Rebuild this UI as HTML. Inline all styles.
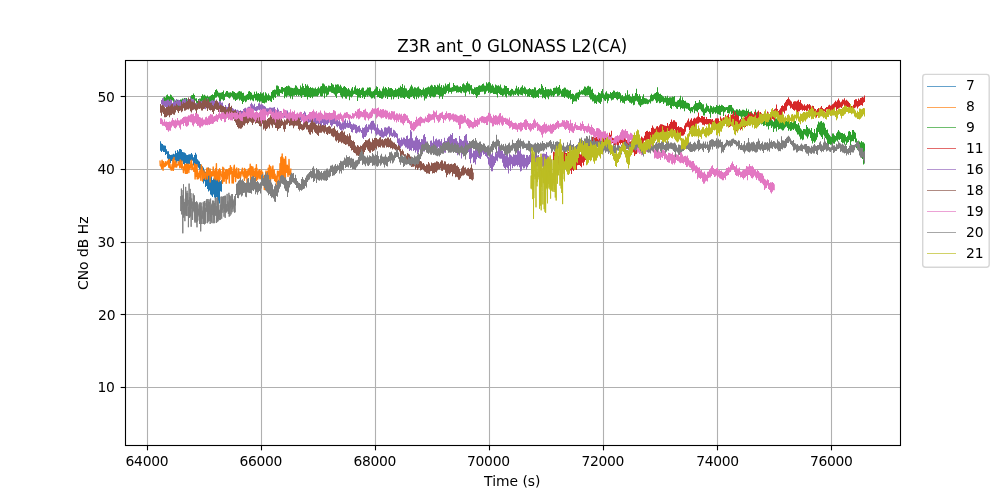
<!DOCTYPE html>
<html lang="en"><head><meta charset="utf-8"><title>Z3R ant_0 GLONASS L2(CA)</title>
<style>html,body{margin:0;padding:0;background:#fff;overflow:hidden}svg{display:block}text{font-family:'DejaVu Sans','Liberation Sans',sans-serif;fill:#000}</style>
</head>
<body>
<svg width="1000" height="500" viewBox="0 0 1000 500">
<rect x="0" y="0" width="1000" height="500" fill="#fff"/>
<g stroke="#b0b0b0" stroke-width="1.11" fill="none">
<path d="M147.5 445V60"/><path d="M261.5 445V60"/><path d="M375.5 445V60"/><path d="M489.5 445V60"/><path d="M603.5 445V60"/><path d="M717.5 445V60"/><path d="M831.5 445V60"/><path d="M125 387.5H900"/><path d="M125 314.5H900"/><path d="M125 242.5H900"/><path d="M125 169.5H900"/><path d="M125 96.5H900"/>
</g>
<g stroke="#000" stroke-width="1.11" fill="none">
<path d="M147.5 445.5v4.86"/><path d="M261.5 445.5v4.86"/><path d="M375.5 445.5v4.86"/><path d="M489.5 445.5v4.86"/><path d="M603.5 445.5v4.86"/><path d="M717.5 445.5v4.86"/><path d="M831.5 445.5v4.86"/><path d="M125.5 387.5h-4.86"/><path d="M125.5 314.5h-4.86"/><path d="M125.5 242.5h-4.86"/><path d="M125.5 169.5h-4.86"/><path d="M125.5 96.5h-4.86"/>
</g>
<clipPath id="c"><rect x="125" y="60" width="775" height="385"/></clipPath>
<g clip-path="url(#c)" stroke="none">
<path fill="#1f77b4" d="M160.0 141.3H161V143.6H162V144H163V145.3H164V145.4H165V145.7H166V149.3H167V151.3H168V151.2H169V154.3H170V155H171V154.8H172V154.5H173V153.8H174V154.3H175V150.8H176V152.9H177V150.1H178V151.6H179V149.1H180V149.1H181V149.7H182V152H183V152.3H184V152.4H185V153.2H186V154.8H187V155.1H188V154.6H189V154.2H190V154.2H191V153.1H192V154.4H193V157.2H194V155.1H195V152.8H196V154.6H197V159.2H198V160.5H199V161.5H200V163.9H201V166.4H202V166.2H203V167.5H204V170.3H205V171.9H206V169.1H207V173.1H208V167.4H209V174H210V176.4H211V174.2H212V180.1H213V178.5H214V175.4H215V176.6H216V177.7H217V177.9H218V178.8H219V178H220V181.2H221V179.9H222V191.7H221V191.3H220V203.5H219V201.5H218V198.1H217V197.1H216V198.6H215V197.5H214V194.6H213V197.1H212V195.4H211V194.4H210V190.6H209V191.4H208V189H207V186H206V187.1H205V181.2H204V183.6H203V175.9H202V173.7H201V172.7H200V169.5H199V167.8H198V166.6H197V167.7H196V165.8H195V166.4H194V165.5H193V160.8H192V162H191V160.8H190V163.9H189V165.4H188V166.1H187V167.7H186V163.1H185V166H184V163.9H183V161.4H182V162.6H181V162.2H180V163.1H179V161.3H178V161.2H177V162.7H176V160.8H175V159.9H174V162.4H173V161.5H172V161.1H171V162.9H170V162H169V163.8H168V158.6H167V154.1H166V155H165V152H164V151.9H163V150.8H162V152H161V150.8H160Z"/>
<path fill="none" stroke="#ff7f0e" stroke-width="1.4" stroke-linejoin="round" d="M160 160.5L160.3 165.6L160.7 166L160.9 165.7L161.2 164.8L161.6 168.5L161.9 161L162.1 160.1L162.4 163.9L162.7 161.8L163.1 170.2L163.2 161.6L163.7 161.8L163.9 166.9L164.2 166.1L164.6 163.9L164.9 164.9L165.2 166.4L165.3 164.5L165.7 161.7L166.1 165.4L166.2 164.8L166.5 163.2L166.9 164.7L167.1 163.1L167.5 161.1L167.8 161.6L168.2 163.6L168.3 160.3L168.8 167.2L169 165.9L169.4 159.5L169.7 167.7L169.8 163.3L170.2 166.2L170.4 168.2L170.8 167.8L171.2 170.2L171.4 168.4L171.6 168.8L172.1 164.5L172.2 166.6L172.6 169.9L172.9 159.5L173.3 170.4L173.5 160.1L173.8 168.3L174 157.4L174.3 165.4L174.7 165.4L175 163.9L175.2 167L175.7 161.2L175.8 164.3L176.1 163.2L176.6 167.1L176.9 165.9L177.2 164.8L177.3 164.7L177.6 164.4L178.1 165L178.2 161.7L178.7 164.9L178.9 163.2L179.2 162.4L179.4 162.4L179.8 167.8L180.2 159.9L180.5 166.2L180.7 167.1L180.9 165.4L181.4 164.8L181.6 168.3L181.9 160.9L182.2 164.7L182.5 166.3L182.7 166.6L183 167.3L183.5 172.6L183.7 170.4L184 166.8L184.3 169L184.7 165.3L184.8 169.9L185.2 164.1L185.4 173.4L185.7 165.3L186.1 171L186.5 164.1L186.7 173.4L186.9 168L187.3 173.2L187.6 166.4L187.9 164.3L188.1 167.1L188.6 164.8L188.9 172.6L189 164.3L189.4 166.7L189.7 169.1L190 167.3L190.3 168.1L190.7 164.6L190.9 161.5L191.1 163.8L191.5 160.1L191.9 169.8L192.1 165.3L192.3 164.1L192.8 168.8L192.9 167.8L193.4 169.4L193.7 169.8L193.8 171.4L194.2 169.5L194.6 163.8L194.7 164.5L195.1 179L195.4 171.8L195.7 164.6L196.1 176.2L196.3 168L196.5 172.2L197 164.8L197.2 179.1L197.4 170.5L197.8 177.1L198.2 176.1L198.3 177.3L198.6 178.5L199 173L199.2 174.8L199.6 170.9L199.8 177.1L200.3 171.9L200.6 169.9L200.8 180.3L201 174.6L201.3 165L201.8 170.1L202 174.2L202.3 168L202.5 181L202.8 172L203.3 176.8L203.4 176.6L203.7 178.4L204 170.8L204.4 177.3L204.6 173.4L204.9 177.1L205.4 174.7L205.5 179.4L205.8 173.9L206.3 171.3L206.5 174.9L206.9 168.1L207.2 176.9L207.4 179L207.6 169L207.9 167.9L208.3 175.2L208.5 170.8L208.9 174.5L209.1 170.6L209.5 174.9L209.9 168.6L210.1 182.1L210.3 169.6L210.6 177.2L211 175.6L211.3 172.1L211.7 176L211.8 171.6L212.1 172.2L212.5 173L212.8 175.8L213.2 167L213.5 171.7L213.8 170.5L214 172L214.4 179.1L214.6 171.3L214.8 172.8L215.1 174.3L215.5 177.9L215.7 168.5L216.1 179.7L216.4 163.8L216.6 173.9L217.1 179.9L217.4 178.1L217.5 172.6L217.8 171.8L218.2 177.7L218.4 170.1L218.8 181.5L219.1 175.9L219.5 176L219.6 168.7L220 179.4L220.2 170.2L220.6 173.5L221 171.6L221.1 173.7L221.6 175.8L221.8 176.6L222.1 176.4L222.5 183.2L222.8 167.1L223 181.3L223.4 168.2L223.5 174.9L223.8 168.2L224.2 181.3L224.5 172.5L224.8 175L225 173.1L225.4 178.4L225.7 170.1L225.9 177L226.2 183.3L226.5 169.6L227 172.5L227.2 169.7L227.4 178.9L227.8 172.2L228.2 170.8L228.3 170.9L228.6 174.8L228.9 168.7L229.3 183L229.6 168.8L230 174.4L230.2 172.8L230.4 165.6L230.7 169.7L231.1 173.2L231.5 173.5L231.7 167.8L232.1 183L232.2 172.2L232.6 179.8L233 176.6L233.2 171.3L233.4 183L233.7 169.8L234.1 166.1L234.3 165.3L234.7 176.3L235.1 176.4L235.4 172.7L235.6 181.6L236 169.1L236.2 177.5L236.4 175.3L236.8 167.9L237.1 176.7L237.4 173.9L237.6 178.2L238.1 177.2L238.3 176.5L238.7 168.7L238.8 178.4L239.2 176.5L239.6 172.3L239.7 177.1L240.2 175.5L240.5 178L240.8 172L241 175.9L241.2 173.2L241.7 173.5L241.8 170.2L242.2 172.7L242.4 168.1L242.8 174L243.2 176.1L243.4 175.1L243.6 176L244 171.6L244.4 180.2L244.5 168.5L244.8 178.4L245.1 173.3L245.5 169.5L245.7 171L246.1 177.4L246.3 171.8L246.6 174.8L247.1 183L247.2 170.9L247.5 174.4L247.9 176.1L248.3 169.1L248.4 173.6L248.9 175L249.2 168.5L249.5 174.5L249.8 171.6L250 174L250.2 164.2L250.7 183.1L250.9 168.5L251.1 177.2L251.6 166.5L251.7 168.9L252 174.5L252.4 170.8L252.8 176.8L252.9 167L253.3 170.1L253.6 175.4L253.9 175.4L254.2 176.5L254.5 171.4L254.7 174.6L255.2 168.4L255.4 180.9L255.8 175.8L256 177.5L256.4 164.8L256.6 180.5L256.9 168.1L257.3 177.9L257.4 174.4L257.8 179L258.2 171.8L258.4 173.7L258.8 170.5L258.9 170.9L259.4 177.9L259.7 169.6L260 178.7L260.2 171.5L260.4 173.3L260.8 178.6L261 176.4L261.5 170.2L261.6 175.5L262.1 174.5L262.3 178L262.6 172.3L263 176.9L263.2 177.2L263.4 181.1L263.9 182.3L264 176.4L264.3 189.5L264.8 180.3L264.9 178.6L265.4 175.8L265.6 181.5L266 171L266.2 186L266.4 182L266.9 186.4L267.2 180.7L267.4 171.7L267.7 181.6L267.9 182.7L268.2 168.3L268.5 177.7L269 179L269.1 174.7L269.4 165.1L269.8 173.7L270.2 172L270.5 182.1L270.8 166.6L271 169.8L271.3 174.2L271.6 173.1L271.8 174.7L272.2 178.6L272.4 169.6L272.9 166L273 174.6L273.5 172.3L273.6 178.4L274.1 176.5L274.2 170L274.6 180.4L275 178.7L275.1 174.1L275.5 181.6L275.7 176.2L276 178.7L276.4 176.1L276.8 180.1L277 185.3L277.4 172.5L277.5 171.1L277.8 175L278.2 171.4L278.5 175.8L278.8 171.5L279.1 181.7L279.3 171.1L279.8 179.5L280 163.7L280.3 170.7L280.7 178L280.8 157.5L281.3 171.7L281.6 156.6L281.9 176.5L282.2 153.9L282.3 167.9L282.7 164L282.9 157.7L283.3 177.6L283.7 160L283.9 178L284.1 159.2L284.6 162.1L284.9 170.7L285.2 167.9L285.4 180L285.6 156.8L285.9 164.1L286.2 166.7L286.6 172.1L286.9 172.3L287.3 165.3L287.5 170.4L287.8 174.1L288 176.4L288.3 166.1L288.8 174.3L289 159.5L289.3 172.5L289.7 174.7L289.9 171.7L290.3 172.1L290.5 181.8L290.8 168.5"/>
<path fill="#2ca02c" d="M163.2 97.2H164V97H165V97.6H166V95.3H167V94.6H168V95.9H169V96.4H170V94.4H171V95.3H172V97.1H173V97.7H174V100.5H175V100.5H176V100.5H177V99.8H178V100.3H179V99.9H180V99.6H181V99.6H182V98.5H183V98.8H184V97.9H185V99.7H186V97.9H187V99.4H188V98.8H189V99.1H190V96.6H191V95.2H192V95.1H193V93.4H194V94.9H195V98.5H196V98.3H197V100.9H198V99H199V98.6H200V98.6H201V96.1H202V94.3H203V95.5H204V94.8H205V95.7H206V96.6H207V95.4H208V96.9H209V96.4H210V95.8H211V95H212V94.3H213V95.1H214V92.2H215V90.1H216V89.2H217V90.8H218V92.4H219V92.7H220V92.8H221V92.4H222V91.9H223V90.4H224V94.1H225V92.4H226V91.1H227V90.9H228V92.5H229V92.4H230V92.2H231V92.8H232V90.9H233V91.5H234V92.1H235V92.9H236V93.3H237V92.6H238V91.4H239V91.1H240V91.5H241V91.5H242V93.1H243V92.8H244V95.8H245V95.6H246V94.7H247V94.1H248V91.6H249V91H250V92.1H251V92.8H252V94.8H253V94.8H254V91.8H255V94.1H256V91.6H257V93.6H258V93.1H259V94H260V92.3H261V93.6H262V93.3H263V92.2H264V95.4H265V92.3H266V93.5H267V95.2H268V93.5H269V95.2H270V95.8H271V92H272V90.6H273V90H274V89.5H275V89.7H276V85.4H277V85.4H278V86.2H279V88.9H280V89.4H281V87H282V86.9H283V88H284V87.7H285V86.9H286V86.1H287V86.2H288V85.6H289V86.3H290V87.6H291V87.8H292V88.1H293V88.3H294V87.8H295V85.3H296V85.8H297V87.4H298V88.7H299V88.9H300V85.6H301V87.2H302V83.6H303V86.1H304V87.9H305V84.1H306V85.8H307V84.6H308V86.3H309V88.1H310V87.1H311V88.1H312V87.6H313V88.2H314V88.6H315V87.5H316V88.9H317V88.3H318V86.8H319V88.3H320V86.5H321V85.9H322V83.5H323V83.6H324V84.4H325V86.3H326V86.1H327V87.5H328V85.4H329V85.7H330V86H331V83H332V84.2H333V84.7H334V87.2H335V84.4H336V84.8H337V84.3H338V84.5H339V86.3H340V84.8H341V86.4H342V87.9H343V86.7H344V86.1H345V87H346V88H347V89.3H348V87.9H349V89.5H350V90.8H351V88.5H352V87.1H353V90.4H354V87.3H355V85.6H356V88.8H357V88.3H358V89.1H359V87.9H360V90.1H361V88.4H362V87.5H363V87.8H364V91.1H365V90.5H366V89.4H367V87.5H368V87.7H369V87.2H370V87.5H371V91.2H372V91.5H373V91.1H374V89.5H375V88.6H376V86.3H377V87.1H378V90.9H379V88.7H380V90.4H381V91.3H382V88.5H383V86.5H384V88.4H385V87.1H386V88H387V89.5H388V87H389V88.2H390V88.1H391V88.1H392V89.1H393V90.3H394V90.1H395V88.3H396V89.4H397V89.1H398V87.8H399V87.8H400V85.8H401V87H402V83.9H403V87.9H404V85.6H405V88.2H406V88.4H407V90.6H408V90.1H409V88.4H410V86.6H411V84.8H412V86.5H413V88.5H414V87.3H415V87.4H416V88.3H417V87.2H418V86.6H419V88.5H420V89H421V90H422V89.5H423V87.4H424V89.3H425V88.1H426V87.8H427V87.2H428V86.6H429V87.2H430V85.7H431V84.8H432V85.4H433V86.9H434V84.9H435V85.5H436V86.9H437V84.8H438V85.4H439V83.6H440V86.7H441V85H442V87.8H443V85.3H444V86.6H445V83.6H446V85.6H447V84.2H448V84.1H449V82.5H450V87.8H451V87.4H452V87H453V83.1H454V85.1H455V85.7H456V85.5H457V85.2H458V86.5H459V86.7H460V86H461V87.1H462V84.3H463V83.2H464V84.6H465V85.2H466V83H467V81.4H468V83.4H469V83.7H470V85.2H471V84.9H472V88.4H473V89H474V87.2H475V87.4H476V87.1H477V87.1H478V85.7H479V85.3H480V85.8H481V85.2H482V84H483V83.4H484V85.5H485V85.7H486V82.3H487V83.6H488V82.2H489V81.9H490V83.3H491V85.6H492V84.2H493V85.7H494V87.6H495V84.6H496V85.2H497V85.8H498V85.3H499V86.3H500V84.4H501V87.6H502V88.5H503V88.2H504V85.3H505V86.1H506V86H507V88.1H508V88.1H509V91H510V90H511V88.8H512V89.1H513V90.5H514V90.7H515V88.6H516V85.7H517V88.4H518V86.9H519V89.6H520V87.7H521V86.8H522V85.3H523V88H524V86.6H525V87.5H526V89.3H527V89.4H528V89H529V88.1H530V88.9H531V89.5H532V89.1H533V89.2H534V87.3H535V87.4H536V90.4H537V90H538V88.9H539V88.1H540V88.8H541V84.1H542V85.7H543V88H544V89.9H545V86.9H546V89.2H547V89.3H548V89H549V89.4H550V88.8H551V89.5H552V91H553V88H554V87.7H555V87.7H556V86.2H557V87.8H558V87H559V84.9H560V88.7H561V90.5H562V89.1H563V88.5H564V87.5H565V87.8H566V89.4H567V89.6H568V90.2H569V90.8H570V90H571V94H572V93.5H573V94H574V95.3H575V93.5H576V92.7H577V92.5H578V91.9H579V89.7H580V91.5H581V90.2H582V90.3H583V88.7H584V86.5H585V86.8H586V87.7H587V86.3H588V85.7H589V86.7H590V86.8H591V89.8H592V88.8H593V93.1H594V94.4H595V94.5H596V95.5H597V95H598V92.2H599V92.9H600V93.5H601V90.9H602V88.9H603V93.2H604V94.4H605V92.4H606V91.3H607V93.4H608V93.8H609V94.3H610V91.9H611V93H612V92H613V90.4H614V90.7H615V92.2H616V91.9H617V91.6H618V92.3H619V91.9H620V93.3H621V95.5H622V94.9H623V96.4H624V96.2H625V93.3H626V95.2H627V90.2H628V94.8H629V94.2H630V96.2H631V97H632V93.7H633V96H634V95.7H635V93.1H636V88.8H637V94H638V96H639V94.2H640V96.2H641V99H642V96.4H643V94.3H644V98.1H645V98.2H646V98.4H647V99.2H648V99.7H649V99.2H650V95.3H651V93.7H652V95.1H653V94.5H654V93.6H655V93H656V92.1H657V87.2H658V92.5H659V94H660V93.7H661V94.9H662V95.8H663V96.6H664V97.8H665V95.9H666V97.4H667V95.8H668V97.9H669V97.3H670V97.2H671V97.4H672V96.6H673V97.1H674V96H675V101.7H676V101.8H677V100.5H678V99.9H679V98.6H680V95.7H681V100.2H682V97.2H683V100H684V101H685V100.8H686V102.5H687V102.7H688V102.9H689V103.7H690V107.4H691V106.9H692V106.9H693V105.7H694V104.2H695V101.1H696V103.1H697V103.1H698V102.4H699V99.9H700V101.9H701V102.9H702V104.3H703V104.3H704V108.5H705V107.3H706V103.6H707V105.6H708V105.9H709V108.6H710V105.4H711V106H712V107.4H713V106.3H714V107.2H715V107.1H716V105.1H717V105.7H718V105.9H719V104.7H720V105.9H721V104.7H722V105.3H723V105.9H724V106.9H725V107.2H726V107.1H727V106.9H728V105.4H729V104.9H730V104.9H731V105.1H732V107.6H733V108.6H734V110.3H735V110.5H736V109.3H737V109.5H738V110.5H739V109H740V110.4H741V110.8H742V109.7H743V109.7H744V110.2H745V110.8H746V108.6H747V111.1H748V109.6H749V111.9H750V111.7H751V111.3H752V113.4H753V114.3H754V114H755V109.6H756V112.5H757V114.7H758V116.6H759V116.7H760V115.4H761V115.9H762V116.9H763V119.2H764V120.4H765V120.3H766V118.7H767V121H768V117.4H769V117.8H770V117.5H771V117.4H772V120.6H773V121.8H774V120.5H775V118.8H776V118.5H777V117.5H778V117H779V118.1H780V115.5H781V119.7H782V120.1H783V121.9H784V122.5H785V120.7H786V121H787V120.7H788V120.3H789V123H790V122.1H791V122H792V122.7H793V121.1H794V120.7H795V121H796V123.9H797V124.6H798V122.9H799V125.4H800V128.3H801V129.5H802V130.7H803V128.9H804V129.1H805V129.3H806V125H807V127H808V128.5H809V128.4H810V130.3H811V128.1H812V132.1H813V133.1H814V129.1H815V133.3H816V127.7H817V124.4H818V121.4H819V122.5H820V121.4H821V120.9H822V122.7H823V122.3H824V123.4H825V127.8H826V129.9H827V129.4H828V133.2H829V134.7H830V136.2H831V136.9H832V133.6H833V133.6H834V135.2H835V136H836V133.2H837V131.8H838V130H839V131.4H840V132.4H841V133H842V133H843V134H844V133.4H845V135.2H846V137H847V135.7H848V131.4H849V130.9H850V131.9H851V134.7H852V130H853V130.1H854V131.8H855V132.8H856V138.5H857V141.3H858V141.1H859V141.6H860V142.6H861V140.9H862V142.2H863V142.3H864V143.6H865V163.4H864V164.5H863V159H862V155.3H861V152.8H860V149.1H859V150.7H858V149.8H857V148.2H856V142.4H855V138.9H854V141.3H853V140.9H852V141.6H851V145.4H850V139.9H849V142.1H848V142.7H847V144.7H846V141.4H845V144.5H844V142.8H843V143.1H842V142H841V139H840V139.9H839V139.5H838V141.4H837V140.5H836V141.8H835V143.8H834V143.5H833V144.3H832V144.6H831V144.8H830V144.1H829V148.8H828V143.3H827V139.5H826V138.1H825V136.4H824V134.8H823V139.1H822V137.1H821V135.6H820V134.3H819V132.1H818V137.2H817V139.8H816V141.6H815V142.8H814V141.3H813V143.4H812V140.7H811V138.1H810V134.3H809V136.4H808V138.6H807V136.5H806V135.6H805V134.5H804V139.4H803V140.2H802V138.8H801V139.4H800V136.5H799V134.4H798V134.5H797V132.3H796V130.8H795V128.8H794V129.9H793V129.3H792V130.5H791V130.9H790V129.3H789V130.8H788V128H787V126.6H786V127.3H785V128.6H784V130.2H783V130.4H782V129.4H781V128.8H780V129H779V129.8H778V127.1H777V131.5H776V128.3H775V128.8H774V131.9H773V126.5H772V127.9H771V125.4H770V126H769V129.5H768V126.2H767V126.5H766V125.1H765V125.6H764V126.1H763V124H762V124.5H761V123.4H760V124.8H759V124.3H758V125H757V123.8H756V123.1H755V122.1H754V121.8H753V120.6H752V117.6H751V115.5H750V116.4H749V115.8H748V115.8H747V116.5H746V117H745V116.9H744V116.5H743V116.7H742V119.5H741V116.6H740V115.9H739V118.8H738V115.6H737V115.7H736V115.6H735V115.8H734V116.2H733V113.5H732V113.9H731V111.4H730V113.4H729V113.2H728V112.9H727V110.1H726V111.4H725V112.3H724V115.9H723V111.6H722V112.1H721V115.2H720V114.8H719V114.2H718V114H717V112.7H716V113.8H715V112.3H714V113.4H713V114H712V112.3H711V117.7H710V113.7H709V111.9H708V111.2H707V112.4H706V113H705V115.4H704V115.6H703V112.2H702V111.3H701V109.4H700V109.1H699V110H698V112.2H697V111.2H696V110.7H695V113.2H694V109.4H693V112.3H692V111.2H691V113.3H690V111.1H689V110H688V108.7H687V108.7H686V108.3H685V111.2H684V108.6H683V108.7H682V108.1H681V109.2H680V106.8H679V107.1H678V108.9H677V108.6H676V107H675V105.9H674V106.5H673V106H672V109.1H671V108H670V105H669V105.8H668V105.6H667V105.9H666V102.6H665V102.5H664V104.1H663V101.7H662V101.9H661V103H660V103.2H659V101.3H658V102.6H657V103.1H656V100.5H655V98.9H654V100.4H653V101.2H652V101.2H651V103.6H650V102.2H649V103.7H648V104.2H647V103.8H646V103.9H645V103.7H644V104.3H643V104.7H642V105.2H641V106.9H640V105.4H639V104.4H638V101.7H637V100.8H636V101.2H635V104.8H634V105.2H633V102.8H632V103.8H631V102.7H630V102.6H629V101H628V100.3H627V100.8H626V101.1H625V103.7H624V102.7H623V102.7H622V101H621V102.6H620V98.8H619V99.1H618V100.3H617V99.2H616V97.9H615V97.9H614V99.6H613V99.7H612V100.6H611V98.4H610V98.1H609V100.8H608V103.2H607V99.2H606V100.9H605V100.5H604V99H603V97.9H602V101.7H601V103.9H600V103.1H599V102.3H598V101.4H597V104H596V103H595V103.4H594V101.3H593V101.5H592V99.5H591V99.5H590V97.4H589V94.9H588V95.6H587V95.6H586V95.9H585V95.2H584V94.6H583V94.7H582V94.2H581V94.7H580V97.2H579V99.9H578V98.8H577V101.4H576V101.3H575V101.3H574V101.8H573V104.1H572V98.9H571V99.4H570V97.7H569V98.9H568V97.7H567V97.2H566V96.3H565V98.1H564V96.7H563V96.7H562V96.4H561V93.7H560V95.3H559V95.8H558V96.3H557V93.8H556V93.9H555V95.4H554V97H553V95.4H552V96.5H551V95.5H550V96.1H549V99.3H548V97.6H547V96.4H546V99.3H545V97.9H544V97.3H543V98.2H542V94.6H541V94.8H540V93.8H539V97.9H538V96.9H537V97.3H536V98.1H535V97.4H534V98.2H533V97.4H532V97H531V95H530V97.1H529V96.3H528V96.7H527V94.1H526V95.8H525V94H524V93.4H523V95.6H522V95H521V94.7H520V94.3H519V96.1H518V95.3H517V93.7H516V94.9H515V94.5H514V95.7H513V94.6H512V95.7H511V96.4H510V95.5H509V95.5H508V94H507V97.4H506V96.4H505V94.6H504V95.4H503V96.4H502V95.1H501V94.9H500V94H499V93.1H498V97.5H497V94.6H496V94H495V94H494V93.9H493V92.8H492V92.9H491V93.4H490V92H489V93H488V90.8H487V91.4H486V93.8H485V94.2H484V91.4H483V91.8H482V91.8H481V92.1H480V94.8H479V95.1H478V96.6H477V97.9H476V95.3H475V94H474V94.7H473V94.1H472V93.7H471V90.4H470V94.2H469V91.8H468V91.2H467V92.4H466V96.3H465V92.7H464V92.4H463V91.3H462V93.2H461V92.8H460V92.1H459V92.4H458V92.3H457V92.7H456V91H455V91.2H454V91.4H453V91.8H452V93.7H451V92.1H450V92.1H449V93.5H448V90.9H447V92.7H446V94.3H445V93.9H444V95.7H443V99H442V96.3H441V96.5H440V98.4H439V95H438V94.6H437V94.6H436V96.6H435V97.2H434V97.2H433V96.6H432V96.3H431V97.9H430V96.6H429V94.6H428V96.3H427V98.6H426V98.5H425V100.5H424V96.1H423V95.2H422V97.6H421V95.7H420V96.5H419V98.3H418V96.8H417V99.2H416V96.3H415V99.2H414V98.1H413V95.9H412V97H411V97.2H410V98.9H409V98.6H408V98H407V96.8H406V97.3H405V98.9H404V97.9H403V97.4H402V97.7H401V97.7H400V96.1H399V99H398V96.1H397V97.2H396V96.9H395V97.3H394V99.3H393V96.1H392V99.6H391V97.1H390V97H389V96.7H388V98.9H387V96.3H386V97.9H385V95.8H384V97.6H383V98.7H382V98.8H381V98H380V98H379V97H378V97.2H377V95H376V95H375V98.8H374V97.4H373V98.2H372V98.5H371V97.2H370V96H369V95.4H368V96.7H367V95.5H366V96.9H365V99H364V96.5H363V98.1H362V94.9H361V97.9H360V97.6H359V97.5H358V101.1H357V95.1H356V94.6H355V94.1H354V94.4H353V96.2H352V97.5H351V96.7H350V100.2H349V96H348V96.2H347V98.8H346V98.4H345V96.7H344V96.2H343V98.4H342V97.3H341V95.5H340V92.9H339V93.1H338V93.8H337V98H336V96.3H335V94.4H334V93.6H333V93H332V92.7H331V91.8H330V91.8H329V94.4H328V95.3H327V96.7H326V93.6H325V98.3H324V93.5H323V96H322V96.6H321V96.1H320V93.4H319V95.3H318V96.4H317V96.3H316V96.3H315V96.2H314V96.4H313V98.2H312V96.8H311V98H310V97.3H309V97H308V99.4H307V96.4H306V96.9H305V97H304V95.2H303V95.6H302V98H301V95.9H300V95.3H299V96.3H298V94.7H297V96H296V95.1H295V95.7H294V95.8H293V99.2H292V96H291V98.5H290V96H289V95.6H288V95.7H287V97.6H286V96.3H285V98.3H284V91.7H283V94H282V93.3H281V93.1H280V96H279V95.8H278V96H277V94.5H276V97.9H275V97.2H274V99.9H273V98.6H272V102.1H271V101.3H270V100.3H269V100.9H268V100.2H267V102.4H266V102.6H265V103.6H264V103.1H263V103.1H262V101.5H261V101.6H260V102.6H259V100.7H258V101.7H257V100.3H256V100.4H255V98.3H254V101.2H253V100.4H252V99.5H251V100.5H250V99.3H249V99.9H248V99.7H247V101.5H246V102.2H245V100.8H244V102.1H243V104H242V101.1H241V99.8H240V100.5H239V98.7H238V99.5H237V99.9H236V100.9H235V99.4H234V99.5H233V97.6H232V96H231V97.5H230V98.4H229V97.8H228V97.1H227V96.5H226V96.7H225V100H224V100.7H223V99.4H222V99.3H221V101H220V101H219V97.6H218V96H217V97.4H216V97.8H215V100.3H214V101.1H213V100.8H212V101.5H211V101.8H210V102H209V102.9H208V102.8H207V102.9H206V101.8H205V101.7H204V102.4H203V100.9H202V103.3H201V103H200V105.1H199V104.4H198V105.8H197V104.2H196V100.7H195V100.6H194V101.1H193V99.5H192V102.1H191V103.4H190V101.5H189V102.5H188V104.1H187V105.6H186V103.7H185V103.7H184V106.7H183V108H182V105.7H181V104.8H180V106.5H179V107.4H178V106.2H177V108.6H176V105H175V103.1H174V101.8H173V100.5H172V100.9H171V103H170V102.1H169V101.5H168V102.6H167V101.4H166V102.7H165V104.1H164V103.7H163.2Z"/>
<path fill="#d62728" d="M553.0 151.8H554V152.2H555V150.8H556V152.4H557V155.6H558V155.9H559V157H560V156.2H561V152.7H562V152.1H563V151.5H564V149.6H565V152.9H566V153.1H567V153.1H568V151.8H569V154.5H570V156.9H571V157.2H572V158.7H573V160.5H574V157.2H575V157.7H576V155.8H577V156.9H578V156.8H579V153.6H580V154.4H581V151.4H582V153.1H583V152H584V149.4H585V146.1H586V144.8H587V142.4H588V142H589V141.9H590V140.6H591V137.7H592V137H593V136.7H594V137.7H595V136.7H596V136.8H597V133.9H598V136.8H599V137.1H600V138.8H601V135.8H602V136.5H603V138.2H604V134.8H605V133.3H606V133.8H607V134.4H608V135.7H609V132.7H610V134.8H611V130.7H612V137.7H613V138.2H614V137.9H615V138.2H616V137.5H617V139.1H618V138.8H619V139.8H620V137.2H621V138.3H622V139.1H623V138.5H624V137.7H625V137.1H626V139.9H627V139.7H628V139.9H629V140.2H630V141.4H631V140.6H632V143.4H633V143.7H634V144.2H635V144H636V143.4H637V141.2H638V142.1H639V139.4H640V140.3H641V136.4H642V137.6H643V138.2H644V135.7H645V131.9H646V131.1H647V130.8H648V132.1H649V131.3H650V132H651V128H652V125.4H653V127.5H654V128.7H655V128.4H656V126.4H657V126H658V127.2H659V125.4H660V124.3H661V124.2H662V124.6H663V125H664V125.5H665V125.8H666V125.9H667V123H668V125.7H669V123.9H670V122H671V119.6H672V121.8H673V120.3H674V120.3H675V121.7H676V122.3H677V127.1H678V125.9H679V127.3H680V126.9H681V127.2H682V128.2H683V129H684V125.4H685V123.2H686V122.6H687V120.6H688V118.6H689V121.5H690V119.8H691V118.2H692V120.8H693V118.8H694V117.7H695V118.6H696V117.6H697V116.6H698V112.6H699V117.1H700V118.1H701V116H702V116H703V116.9H704V116.8H705V118.9H706V117.1H707V119.1H708V119.1H709V118.9H710V119.1H711V119.6H712V119.1H713V120.8H714V121H715V118.4H716V118.3H717V118.3H718V118.6H719V120.9H720V116.4H721V118.5H722V118.6H723V117.2H724V117.5H725V114.8H726V118.2H727V115.4H728V114.1H729V117.7H730V116.2H731V114.8H732V114.2H733V110.9H734V115.9H735V111.9H736V114.8H737V114.7H738V116.1H739V120.2H740V119.1H741V121.4H742V121.5H743V120.2H744V117.4H745V116H746V116.6H747V115.2H748V112.8H749V114.2H750V111.9H751V113.5H752V113.5H753V114.9H754V111.7H755V111.9H756V114.8H757V111.7H758V110.6H759V112.5H760V112H761V113.2H762V114.3H763V114.5H764V113.9H765V112.1H766V114.8H767V111.6H768V112.4H769V115.3H770V112.2H771V111H772V111.3H773V110.3H774V109.2H775V108.5H776V104.6H777V109.1H778V110.9H779V109.8H780V108.3H781V105.9H782V105.3H783V105.9H784V103.2H785V101.7H786V99.9H787V99.1H788V97.3H789V99.3H790V100.6H791V101.4H792V103.8H793V101.7H794V101.2H795V101.3H796V101.4H797V100.7H798V99.7H799V102H800V100H801V103.2H802V104.2H803V105.4H804V104.2H805V105.8H806V105.3H807V104H808V104.7H809V103.9H810V105.3H811V106.9H812V105.7H813V105.9H814V108.5H815V108.9H816V110.4H817V109.1H818V108H819V108.5H820V107.5H821V106.1H822V107.9H823V109H824V109.3H825V108H826V106.9H827V107H828V105.5H829V104.8H830V105.8H831V105.3H832V104.3H833V103.6H834V102.2H835V100.8H836V101.7H837V100.2H838V98.4H839V100.4H840V102.3H841V101.5H842V99.5H843V99.7H844V98.3H845V100.4H846V99.8H847V100.8H848V101.7H849V103H850V104.6H851V106H852V106.5H853V104.7H854V100H855V99.2H856V99.3H857V101.1H858V98.6H859V99.7H860V98.1H861V97.8H862V96.9H863V97.5H864V95.4H865V101.9H864V102.7H863V105.8H862V105H861V105.2H860V105.9H859V106.8H858V108.6H857V106.5H856V107.6H855V108.2H854V109.5H853V111.8H852V110.7H851V109.4H850V109.8H849V107.7H848V107.1H847V107.4H846V111H845V106.8H844V104.4H843V106.2H842V107.9H841V107.2H840V107.7H839V108.5H838V109.1H837V111.7H836V107.2H835V110.7H834V110.4H833V112.5H832V111.3H831V110.7H830V112H829V110.4H828V109.2H827V109.4H826V112.4H825V111.3H824V114.2H823V113.5H822V111.1H821V111.2H820V112.2H819V115.1H818V115.8H817V117.6H816V115.2H815V112.4H814V113.7H813V113.2H812V111.9H811V114.8H810V111.4H809V108.6H808V110.7H807V111.1H806V109.9H805V111.1H804V109.9H803V110.7H802V109.8H801V110H800V111.3H799V111.4H798V116.1H797V113.3H796V109.8H795V110.8H794V110H793V108.9H792V107.7H791V108.5H790V105.8H789V105.2H788V106.2H787V110.6H786V110.8H785V113.6H784V111.7H783V113.6H782V114.9H781V115.3H780V118.8H779V117.1H778V116.5H777V117H776V115.5H775V121.1H774V119.4H773V118.9H772V118.7H771V120.5H770V119.5H769V120.1H768V119.9H767V118.2H766V119.8H765V118.9H764V120.8H763V120.2H762V119.5H761V122.2H760V118.6H759V119.9H758V120.6H757V120.1H756V117.8H755V119.3H754V121.2H753V119.6H752V122.7H751V123.4H750V124H749V120.4H748V125.2H747V126.1H746V126.9H745V127.4H744V127.1H743V126.1H742V129.1H741V130.2H740V128.1H739V128.7H738V129.1H737V131.3H736V127.4H735V126.6H734V124H733V123.5H732V125.1H731V126.2H730V126.9H729V125.5H728V126.2H727V125.5H726V123.4H725V125.5H724V125.7H723V126.1H722V126.3H721V125.8H720V128.6H719V128H718V125.5H717V125H716V124.6H715V125.5H714V126.3H713V127.1H712V127.4H711V124.3H710V125.5H709V125.1H708V124.2H707V124.4H706V124H705V125.5H704V124.7H703V124.8H702V122.8H701V122.3H700V122.5H699V123.4H698V123.7H697V125H696V125.3H695V127H694V126.5H693V126.9H692V127.6H691V129.4H690V130.2H689V127.2H688V126.8H687V127.3H686V131.7H685V134.3H684V135.4H683V135.7H682V135.8H681V135.5H680V135.5H679V135H678V134.4H677V134.4H676V131.8H675V129.2H674V131.4H673V129.9H672V130.8H671V131.8H670V131.4H669V131.3H668V133.3H667V132.9H666V133.5H665V132.4H664V132.9H663V135.6H662V132.2H661V134.1H660V135.5H659V135.3H658V134.9H657V135.5H656V134.1H655V136.4H654V138.5H653V139.7H652V141.6H651V141.9H650V141.3H649V139.3H648V141.9H647V142H646V140.8H645V140.6H644V144.2H643V146.4H642V147.6H641V149.2H640V153.4H639V152.3H638V151.9H637V154H636V154.3H635V156H634V152.3H633V152.1H632V150.9H631V148.3H630V150.5H629V149.2H628V148.8H627V146.1H626V145.3H625V146.3H624V145.8H623V144.2H622V143.1H621V144.4H620V143H619V146.7H618V146.8H617V144.5H616V146.2H615V145.5H614V145H613V143.1H612V142.5H611V141.1H610V144H609V140.8H608V142.5H607V141.9H606V142.2H605V145.4H604V144.4H603V144.1H602V145.8H601V146H600V145.4H599V145.4H598V146.8H597V145.6H596V147H595V147.6H594V146.2H593V147.1H592V149.7H591V150.9H590V152.9H589V154.6H588V156.9H587V158.3H586V160H585V161.7H584V165.4H583V162.7H582V167.3H581V165.9H580V165.1H579V164.9H578V165.3H577V170.1H576V166.2H575V166.7H574V170.9H573V169.7H572V174.1H571V170.4H570V167.7H569V164.4H568V165.5H567V167H566V162.8H565V165.5H564V164.1H563V165.4H562V165.8H561V165.1H560V166.5H559V165H558V163H557V169.4H556V165.6H555V165.2H554V163.7H553Z"/>
<path fill="#9467bd" d="M161.0 99.9H162V98.2H163V98.4H164V101H165V100.7H166V100.4H167V99.8H168V99.6H169V100.9H170V99.3H171V100H172V103.1H173V101.9H174V99.2H175V101.4H176V98.9H177V100.4H178V99.8H179V100.1H180V101.3H181V102.8H182V100.3H183V99.1H184V99.3H185V98.1H186V101.6H187V99.3H188V100.1H189V102.2H190V96.7H191V98.5H192V99.4H193V98.7H194V100.3H195V103.3H196V102.7H197V103.3H198V100.5H199V99.4H200V101.3H201V101.2H202V100.4H203V101.8H204V103.5H205V104.3H206V102.8H207V98.3H208V100.8H209V101.7H210V101.7H211V100.5H212V100.3H213V100.8H214V99.4H215V102.9H216V99.6H217V101.6H218V102.3H219V101H220V101H221V102.7H222V102.6H223V105.7H224V106.9H225V105H226V106.8H227V106.9H228V103.8H229V108.4H230V109H231V107.5H232V108H233V108.8H234V109.7H235V109H236V110.2H237V109.7H238V110.6H239V111.2H240V110.3H241V111.1H242V110.9H243V109H244V108.2H245V107.7H246V110.3H247V107.4H248V106.7H249V106.8H250V104.3H251V102.7H252V104.2H253V105.5H254V103.8H255V106.9H256V106.2H257V105.9H258V103.4H259V102.7H260V104.6H261V103.9H262V104.5H263V105.6H264V106.1H265V106.7H266V108.3H267V108.2H268V108.3H269V107.6H270V107.5H271V107.7H272V107.7H273V107.4H274V107H275V109.5H276V110.4H277V107.7H278V109.5H279V111.5H280V111H281V113.6H282V113.1H283V111.4H284V111.5H285V111.6H286V110.4H287V110.6H288V114.4H289V116.3H290V116H291V115.7H292V113.8H293V112.9H294V115.7H295V117.7H296V118.5H297V115.5H298V116.9H299V115.1H300V116.1H301V115.6H302V115.2H303V113H304V111.2H305V112.6H306V115.2H307V115.9H308V116.9H309V115.7H310V116.1H311V113.2H312V114.8H313V114.8H314V115.8H315V112.5H316V114.1H317V115.7H318V117.2H319V115.1H320V120.2H321V116.8H322V115.9H323V117H324V116.2H325V116.9H326V117.7H327V118.4H328V116.9H329V118.2H330V119.3H331V118.6H332V116.5H333V118.7H334V118H335V120.5H336V118H337V119.4H338V121.3H339V118.6H340V122.2H341V123.5H342V122.2H343V122.2H344V120.5H345V118.7H346V123.1H347V120.6H348V122.9H349V119.2H350V121.8H351V124.1H352V124.4H353V123.6H354V124.2H355V124.4H356V124.9H357V126.8H358V125.9H359V125.4H360V128.3H361V130.1H362V127.4H363V128.1H364V127.3H365V125.2H366V123.9H367V126.8H368V124.6H369V124.4H370V122.6H371V121.1H372V120.8H373V120.8H374V123.3H375V124.8H376V127.5H377V124.3H378V128.3H379V129.7H380V130.3H381V128H382V129.4H383V131.5H384V127.6H385V127.3H386V127.8H387V127.5H388V126.2H389V126.6H390V127.9H391V127.8H392V132.8H393V129.8H394V130.3H395V131.5H396V133.1H397V133.7H398V138.4H399V138.2H400V139.9H401V137.6H402V139.2H403V137.4H404V137.8H405V139.1H406V135.9H407V135.5H408V139.1H409V138.3H410V130.1H411V131.5H412V138.3H413V140.4H414V140.4H415V137.3H416V135.8H417V138H418V139.8H419V139.2H420V142.1H421V139H422V139.3H423V135.2H424V133.9H425V137.1H426V141.5H427V143.3H428V145.6H429V146.4H430V140.8H431V140.6H432V142.7H433V136.3H434V141.3H435V139.2H436V138.5H437V140.3H438V139.5H439V139.3H440V141.3H441V138.9H442V143.3H443V142H444V137.8H445V141.1H446V141.1H447V138.3H448V136.8H449V136.3H450V134.3H451V135H452V133H453V139H454V139H455V137.9H456V138.2H457V141.3H458V142.7H459V136.1H460V139.1H461V139.7H462V141.1H463V140.6H464V135.9H465V134.7H466V133.9H467V140.8H468V142.9H469V141.2H470V146H471V146.3H472V153.2H473V150.6H474V150.7H475V149.8H476V147.6H477V150.2H478V144.5H479V147.9H480V144.9H481V145.6H482V145.5H483V148.1H484V146.2H485V147.7H486V148.2H487V153.3H488V156.7H489V157.4H490V152.6H491V154.4H492V153H493V156H494V156.6H495V152.2H496V153.3H497V151.3H498V146.5H499V146.4H500V148.7H501V150.2H502V151H503V153.7H504V153.2H505V156H506V153.1H507V153.2H508V157.2H509V153.6H510V154.7H511V155.4H512V156.8H513V154.3H514V154.7H515V154.8H516V154.8H517V149.8H518V146.9H519V151.3H520V149.2H521V153.7H522V154.7H523V154.5H524V154.7H525V158H526V155H527V155H528V156.5H529V155H530V148.1H531V153.5H532V154.6H533V154.3H534V156.4H535V154.4H536V153.7H537V155.4H538V155.1H539V158.6H540V158.6H541V156.5H542V153.8H543V153.5H544V153.8H545V154H546V151.9H547V155.4H548V156.3H549V158.6H550V157.6H551V159.8H552V168H551V172.4H550V175.8H549V172.4H548V168.3H547V173.1H546V166.6H545V169.1H544V169.3H543V166.8H542V166.9H541V170.8H540V169.6H539V166H538V166.5H537V166.4H536V166.6H535V168.5H534V163.8H533V168.7H532V165.6H531V162.3H530V163.9H529V165.3H528V167.3H527V169.6H526V166.6H525V168.3H524V168.5H523V166.6H522V170.8H521V171.4H520V167.2H519V164.9H518V166.6H517V165.1H516V165.8H515V166.6H514V165.9H513V168.3H512V164.3H511V171.1H510V165.8H509V173.6H508V168.2H507V167.2H506V169.6H505V168H504V166.5H503V162.7H502V158.7H501V158.8H500V158.6H499V157.5H498V161.3H497V160.4H496V163H495V165.2H494V166.8H493V171.2H492V171.2H491V168.1H490V166.1H489V164.6H488V158.6H487V156.7H486V156H485V153.9H484V154.7H483V152.5H482V156.5H481V159.1H480V158.4H479V158H478V157H477V159.3H476V164.5H475V162.3H474V162.9H473V157.3H472V158.4H471V163.2H470V159H469V152.1H468V152.6H467V151.5H466V153.4H465V149.1H464V148.3H463V153.3H462V158.5H461V150.8H460V149.1H459V151.6H458V155.2H457V151.3H456V152.8H455V151.2H454V148.4H453V150.6H452V148.6H451V146.8H450V146.5H449V144.5H448V148H447V148.7H446V152.7H445V152.6H444V152.8H443V151.8H442V153.2H441V151.4H440V148.8H439V146.8H438V148.6H437V148.4H436V150.7H435V150.8H434V150.6H433V152.5H432V152.2H431V152.3H430V150.5H429V151.3H428V150H427V151.6H426V150H425V151.6H424V151.4H423V151.8H422V154.5H421V152.5H420V149.6H419V152.2H418V154.5H417V150.4H416V152.6H415V150.1H414V151H413V148H412V150.8H411V150.1H410V150.9H409V148.6H408V149H407V147.6H406V147.4H405V145.8H404V144.6H403V145.8H402V146.4H401V148.2H400V148H399V146.8H398V143.1H397V137.7H396V137H395V137.8H394V136.3H393V137.1H392V136.3H391V135.5H390V137H389V133.4H388V134.7H387V136.8H386V135.9H385V136.6H384V137.7H383V137.6H382V137.2H381V136.4H380V135.7H379V134.5H378V134.6H377V135.5H376V133.8H375V130.7H374V129.7H373V129.8H372V133.5H371V129.8H370V129.5H369V131.9H368V132.6H367V135.6H366V137H365V136.9H364V138.9H363V137.8H362V133H361V131.4H360V132.5H359V131.8H358V132.5H357V133.4H356V132.9H355V129.5H354V129.9H353V132.4H352V132H351V129H350V127.8H349V128H348V127.8H347V127.5H346V129.1H345V128.8H344V130.2H343V129.5H342V130.7H341V130H340V128.7H339V126H338V127.3H337V126.3H336V124.2H335V124.1H334V124H333V125.5H332V126.8H331V125H330V122.4H329V123.2H328V125H327V124.1H326V125H325V125.4H324V128.6H323V122.9H322V126.3H321V126.5H320V124.3H319V124.3H318V123.4H317V123.9H316V124.5H315V122.3H314V122.4H313V123.7H312V122.4H311V122.4H310V122.2H309V122.8H308V122.5H307V123.1H306V120H305V119.8H304V121.7H303V120.6H302V122H301V120H300V122.8H299V123.5H298V124.5H297V124.5H296V124.3H295V121.4H294V122.2H293V118H292V122.9H291V120.9H290V120.1H289V121.2H288V120H287V117.5H286V117.4H285V117.8H284V118H283V117.4H282V120.4H281V118.4H280V116.6H279V116H278V116.4H277V117.2H276V117H275V116.3H274V115.8H273V114H272V113.5H271V113H270V113.7H269V113.9H268V113.9H267V114.3H266V114.2H265V110.5H264V111.6H263V112.7H262V110.7H261V111H260V110.3H259V109.8H258V110.5H257V111.3H256V111.1H255V110.4H254V109.8H253V110.6H252V111.7H251V109.8H250V110.8H249V112H248V113.6H247V115.7H246V114.9H245V112.6H244V113.3H243V115.3H242V115.6H241V115.7H240V114.8H239V115.2H238V115.6H237V113.2H236V113.9H235V112.7H234V111H233V112.6H232V112.7H231V113.6H230V111.5H229V111.7H228V109.3H227V112.4H226V112.3H225V111.1H224V110.5H223V109.2H222V110.1H221V109H220V109.1H219V107.3H218V108.3H217V108.7H216V106.6H215V107.6H214V106.4H213V107.8H212V106.6H211V106.1H210V105.2H209V104.3H208V106.3H207V106.3H206V109.3H205V106.9H204V107H203V108.1H202V105.9H201V105.4H200V104.2H199V107.1H198V105.5H197V106.6H196V107H195V107.2H194V106.6H193V105.2H192V104H191V105.3H190V108.2H189V107.6H188V108.3H187V107.2H186V105.8H185V107.6H184V107.2H183V104.6H182V106.2H181V105.8H180V106H179V105.8H178V105.8H177V105.7H176V106.9H175V109.4H174V109.4H173V106.9H172V107.1H171V108.8H170V108.4H169V106.8H168V108H167V108.4H166V107H165V106.7H164V105.4H163V105.1H162V104.3H161Z"/>
<path fill="#8c564b" d="M160.0 103.9H161V105.5H162V105H163V105.2H164V106.9H165V108.2H166V107H167V106.9H168V105.6H169V106.4H170V105.6H171V104.2H172V104H173V106.5H174V105.5H175V105.8H176V103.7H177V105.3H178V106.6H179V105.7H180V105.5H181V101.8H182V103.8H183V102.2H184V102.9H185V102.4H186V101.5H187V101H188V97.6H189V98.9H190V99.3H191V101.5H192V101.5H193V102.3H194V100.2H195V103.4H196V104.4H197V103.2H198V100.4H199V101.2H200V101.2H201V102.7H202V100.7H203V100.3H204V99.8H205V98.3H206V100.8H207V99.2H208V99.5H209V102.3H210V102.7H211V102.7H212V104.9H213V105.7H214V103.4H215V100.7H216V100.2H217V101.2H218V102.9H219V105.4H220V104.4H221V105.3H222V105.9H223V106.2H224V107H225V107H226V109.5H227V108.5H228V106.7H229V103H230V106.9H231V105.7H232V110.8H233V110.7H234V110.6H235V110.1H236V112.2H237V114.6H238V113.2H239V111.2H240V111.4H241V117.7H242V115.8H243V113.8H244V111.1H245V112.1H246V115.4H247V116.3H248V113.2H249V110.8H250V113.4H251V115.1H252V113.4H253V114.6H254V113.8H255V113.6H256V116.2H257V115.1H258V113.7H259V116.6H260V118.5H261V115.2H262V117H263V119.9H264V120.2H265V119.1H266V120.6H267V119H268V118.1H269V117.4H270V115.2H271V116.5H272V117.1H273V116.5H274V116.9H275V116.4H276V116.5H277V118H278V119.2H279V118.1H280V117.2H281V118.9H282V120.4H283V121.7H284V119.6H285V120.4H286V118.5H287V118.3H288V115.4H289V113.1H290V116H291V118.4H292V119H293V120H294V118.5H295V118.2H296V118.8H297V118.4H298V117.3H299V118.7H300V120.7H301V123.9H302V124.6H303V122.3H304V120.6H305V119.4H306V121H307V122H308V124.9H309V124.6H310V123H311V120.6H312V119.3H313V122.3H314V122.2H315V123.6H316V124.8H317V125.5H318V123.8H319V125.4H320V123.9H321V125.7H322V124.9H323V125.3H324V125.6H325V125.1H326V127.3H327V126.9H328V126.2H329V125.7H330V126.7H331V128.7H332V128.5H333V128H334V126.2H335V129.4H336V131H337V130.2H338V132.8H339V133.3H340V132H341V131.1H342V130.6H343V132.6H344V131.5H345V135.1H346V135.8H347V134.2H348V136.3H349V133.2H350V135.6H351V140.1H352V141H353V140.6H354V142.1H355V145.5H356V146.8H357V145H358V145.8H359V147.1H360V145.6H361V146.1H362V144.4H363V143.2H364V142H365V139.9H366V140.2H367V140.3H368V139.3H369V138.2H370V141.4H371V142.3H372V138.4H373V140.1H374V137.9H375V138.1H376V138H377V139.2H378V139.3H379V137.8H380V137.1H381V139.4H382V139.1H383V140.3H384V138.9H385V138.3H386V138.8H387V137.6H388V137.5H389V139.3H390V138.1H391V140.5H392V141.5H393V142.4H394V142.4H395V144.1H396V144.7H397V146.5H398V145H399V146H400V148.7H401V151.1H402V149.5H403V151.2H404V154.3H405V154.2H406V155.4H407V153.1H408V153.7H409V154.6H410V156.5H411V157H412V157.5H413V157.8H414V158.6H415V161.7H416V160.8H417V161H418V158.6H419V160.6H420V161.1H421V161.6H422V163.6H423V163H424V164.6H425V166H426V164.2H427V164.6H428V161.9H429V163.4H430V165.5H431V162.6H432V163.3H433V162.9H434V162.5H435V162.5H436V161.3H437V161.4H438V162H439V163.6H440V161.7H441V160.2H442V160.5H443V163.6H444V161.2H445V161.4H446V164.3H447V163.9H448V163.6H449V164.5H450V164H451V163.7H452V164.4H453V164.1H454V163H455V163.5H456V165.7H457V165.5H458V167H459V168.7H460V171.4H461V168.3H462V166.5H463V165.5H464V167.7H465V167.3H466V169.6H467V168.2H468V167.8H469V169H470V167.8H471V164.4H472V168.6H473V172.4H473.8V179.3H473V180.6H472V179.8H471V179H470V179.1H469V176.2H468V175.7H467V175.3H466V173.6H465V174.7H464V175.5H463V175.6H462V176.3H461V178.3H460V179.8H459V179.8H458V177.2H457V176.8H456V177.3H455V174.1H454V173.7H453V176.2H452V171.9H451V173.2H450V174.6H449V173.4H448V174.9H447V177.3H446V172.7H445V169.7H444V169.6H443V170.9H442V170.7H441V168.4H440V169.6H439V169.6H438V170.5H437V172.5H436V172.1H435V173.3H434V173.1H433V173.4H432V170.9H431V171.2H430V174.1H429V173.6H428V173.3H427V173.5H426V171.9H425V171.5H424V170.3H423V169H422V169.9H421V170.5H420V167.7H419V168.4H418V169.9H417V167.8H416V169.6H415V166.3H414V166.8H413V166.8H412V167H411V165.6H410V163.1H409V162.1H408V160.9H407V159.8H406V159.3H405V156.4H404V155.4H403V154.7H402V155.5H401V156.3H400V151.4H399V150H398V150.1H397V149.9H396V150.3H395V149.2H394V148.6H393V149.4H392V148.1H391V148.5H390V147H389V147.5H388V147.1H387V147.6H386V145.6H385V147.8H384V147.4H383V147.5H382V145.8H381V147.5H380V147H379V147.6H378V146.2H377V149.4H376V148.2H375V150.3H374V150.9H373V151.8H372V150.2H371V152.8H370V152.6H369V150.9H368V149.6H367V147.6H366V150H365V152.1H364V154H363V154.6H362V155.7H361V156.4H360V156.7H359V156.1H358V155.6H357V155.4H356V153.6H355V153H354V152.2H353V150H352V150.4H351V148H350V146.3H349V146.3H348V144.3H347V144.4H346V145H345V144H344V143.4H343V142.6H342V143.2H341V141.8H340V141.8H339V143H338V140.3H337V141.5H336V140.5H335V136.5H334V137.3H333V136.5H332V135.8H331V133.5H330V134H329V133.5H328V135H327V133.9H326V131.8H325V133.4H324V132.6H323V131.4H322V132.8H321V132.7H320V132.7H319V135.9H318V135.1H317V133.8H316V133.1H315V131.8H314V129.6H313V133.6H312V131.9H311V134.8H310V134.3H309V132.3H308V129.6H307V129.6H306V127.5H305V129.3H304V129.9H303V130.6H302V129.8H301V128.9H300V130.6H299V129H298V125.7H297V125.8H296V125.5H295V126.3H294V128.3H293V125.4H292V125.2H291V125.4H290V126.1H289V122.9H288V124.5H287V124.8H286V129H285V131.8H284V129.2H283V125.3H282V126H281V128H280V128.3H279V128.9H278V130.8H277V127.9H276V127.9H275V125H274V124.5H273V127.8H272V125.6H271V124.4H270V128.6H269V126.7H268V128.3H267V128.9H266V130.8H265V128.4H264V129.5H263V123.8H262V126.2H261V126.4H260V126H259V123.8H258V123H257V123.1H256V123.7H255V121.5H254V122.8H253V125.1H252V122.7H251V121.7H250V121.6H249V123H248V124.4H247V122.9H246V123.6H245V125.8H244V125.2H243V127.2H242V128.6H241V128.7H240V128.3H239V128.4H238V126.9H237V125H236V122.4H235V120.9H234V118.8H233V116.5H232V116.3H231V115.4H230V115.4H229V114.1H228V117.5H227V116.3H226V115.8H225V115.1H224V114.4H223V112.5H222V112.7H221V111.9H220V112.5H219V112H218V110H217V109.8H216V108.9H215V110.7H214V114.1H213V112.1H212V109.9H211V110.4H210V109.9H209V108.5H208V111H207V108.2H206V107H205V108.8H204V108.9H203V110.6H202V110.4H201V108.5H200V109.1H199V108.8H198V109.7H197V114.4H196V110.5H195V109.3H194V109.8H193V110.2H192V112.4H191V111.3H190V108.6H189V109.5H188V109.3H187V109.7H186V110.4H185V110.8H184V108.2H183V111.3H182V112.3H181V110.4H180V110.9H179V112.9H178V111.3H177V110H176V112.5H175V114.7H174V114.6H173V113.8H172V114.9H171V115.3H170V117.2H169V115.2H168V115.8H167V117.1H166V117.2H165V117.2H164V113.9H163V112.4H162V115.8H161V112.7H160Z"/>
<path fill="#e377c2" d="M160.0 118.3H161V118.2H162V119.6H163V121.7H164V119.3H165V121.7H166V121.6H167V122.1H168V122.1H169V121.4H170V121.8H171V120.6H172V118H173V120.1H174V120.4H175V119.4H176V120.4H177V117.9H178V120.3H179V120.5H180V119.5H181V119.3H182V118H183V116.9H184V116.8H185V116.6H186V116.7H187V116.6H188V115.2H189V115.4H190V114.4H191V113.8H192V114.3H193V113.7H194V115.9H195V113H196V113.2H197V113.7H198V114.4H199V117.1H200V117.5H201V118.3H202V117.5H203V119.5H204V119.5H205V117.3H206V116.7H207V118.3H208V116.3H209V115.6H210V114.1H211V114.4H212V114.6H213V116.5H214V116H215V115.6H216V114.1H217V115H218V113.4H219V109H220V113.7H221V112.3H222V112.7H223V112.1H224V113.4H225V114.3H226V112.2H227V111.7H228V113.5H229V111.6H230V113.1H231V111.7H232V112.6H233V113H234V112.4H235V112.4H236V113.1H237V111.3H238V114.6H239V111.9H240V112.1H241V113.5H242V112.8H243V110.3H244V111.5H245V112.3H246V108.5H247V108.3H248V107.7H249V108H250V105.6H251V108.3H252V108.5H253V109.3H254V112.5H255V112H256V110.9H257V112.1H258V112.9H259V111.7H260V108.9H261V109.9H262V108.8H263V108.7H264V108.7H265V109H266V111.3H267V112H268V111.1H269V109.4H270V109.1H271V110.6H272V111.9H273V111.3H274V112.7H275V109.1H276V110.1H277V112.3H278V111.2H279V111.8H280V111.7H281V111H282V113.5H283V108.8H284V109.6H285V110H286V111.1H287V113.4H288V112.6H289V112.2H290V109.2H291V112.5H292V111.2H293V112.1H294V110.4H295V114H296V113.4H297V112.6H298V113.8H299V112.6H300V111.7H301V112H302V114.1H303V114.2H304V113.6H305V116.1H306V115.3H307V114.9H308V113.9H309V112.1H310V112H311V112H312V110.9H313V109.6H314V111.4H315V112.7H316V111H317V113.4H318V112.4H319V112.6H320V110.5H321V112.8H322V113.7H323V114.7H324V110.7H325V112.6H326V112.8H327V112.9H328V113H329V112.2H330V113H331V113.1H332V112.8H333V109.9H334V110.4H335V111.2H336V115.3H337V114.4H338V113.7H339V113.7H340V112.4H341V114.2H342V115.6H343V114.5H344V112.8H345V112.7H346V112.1H347V112.3H348V114.1H349V114.4H350V114.7H351V115.9H352V113.1H353V113.4H354V113.2H355V111.1H356V111.7H357V109.6H358V109.1H359V108.3H360V110.9H361V111.2H362V112.1H363V109.9H364V109.8H365V108.7H366V111.5H367V111.9H368V113.6H369V112.4H370V111.5H371V109.7H372V108.1H373V108.8H374V108.4H375V108.1H376V108.7H377V108H378V107.4H379V110.4H380V109H381V109.7H382V109.3H383V108.9H384V110.6H385V109.7H386V110.5H387V110.8H388V112.7H389V111.7H390V113.2H391V110.9H392V111.3H393V111.6H394V111.2H395V114.5H396V113.3H397V113.5H398V114.5H399V113.3H400V114.6H401V113.7H402V115.8H403V114H404V113.4H405V114H406V115.2H407V115.5H408V118.3H409V119.9H410V121.2H411V121.1H412V123.3H413V121.7H414V121.9H415V120.1H416V116.8H417V119.3H418V118.1H419V117.2H420V116.6H421V116.9H422V118.3H423V118.7H424V118.4H425V116.5H426V117.7H427V115.1H428V113.4H429V113.8H430V114.2H431V114.5H432V114H433V110.4H434V111.6H435V112.3H436V110.4H437V115.1H438V114.7H439V113.4H440V112.9H441V112.5H442V111.8H443V114.9H444V114.8H445V113.1H446V111.3H447V113.6H448V112.9H449V112.9H450V113.1H451V114.6H452V113.8H453V113.4H454V114.4H455V114.2H456V114.8H457V115.4H458V116H459V115.4H460V114.7H461V114.8H462V115.3H463V116.3H464V113.9H465V115.7H466V119.6H467V118.1H468V118.4H469V119.5H470V119.9H471V121H472V121.9H473V121.8H474V117.7H475V119.8H476V119.9H477V118.1H478V119.2H479V117.8H480V117.2H481V116.2H482V116H483V116.4H484V116.8H485V117H486V116.3H487V115.4H488V112.8H489V113H490V113.8H491V116.2H492V117.7H493V114.8H494V116H495V115H496V115.6H497V116.6H498V115.6H499V113.5H500V113.1H501V116.3H502V115.5H503V117.4H504V118.1H505V117.7H506V118.5H507V118.5H508V119.6H509V117.5H510V121.1H511V120.4H512V122.3H513V122.9H514V123.1H515V122.6H516V123.2H517V124.4H518V123H519V123H520V122.3H521V122.4H522V122.9H523V122.2H524V120H525V119.3H526V119.6H527V121.1H528V123H529V123.6H530V122.9H531V123.9H532V123.1H533V120.2H534V118.7H535V120.4H536V122.8H537V121.9H538V123.8H539V124.6H540V125.5H541V126H542V124.9H543V124.2H544V122.2H545V124.3H546V123.8H547V125.7H548V124.8H549V125.6H550V123.8H551V125H552V124H553V123.8H554V124.5H555V122.9H556V122.1H557V120.6H558V121.1H559V123.3H560V123.3H561V122.4H562V120.1H563V120.6H564V120.2H565V121.8H566V120.1H567V120.5H568V121H569V123.4H570V119.8H571V123.2H572V123.1H573V126.2H574V124.1H575V122.3H576V125H577V125.3H578V125.9H579V125.9H580V122.8H581V123.9H582V121.2H583V124H584V126.1H585V126.1H586V126.3H587V125.8H588V123.5H589V126.2H590V127H591V124.7H592V127.1H593V127.9H594V129H595V131.3H596V128.3H597V128.1H598V128.2H599V128.7H600V130H601V131.5H602V131.8H603V131.3H604V131.3H605V131.3H606V133.9H607V132.7H608V135.8H609V136.6H610V137.1H611V135.8H612V139.9H613V139.8H614V137.6H615V136.2H616V136.1H617V135H618V135.9H619V134.7H620V132.2H621V130.2H622V128.9H623V130.3H624V130.4H625V128.9H626V131H627V131.1H628V133.7H629V134.6H630V132.7H631V133.3H632V134.4H633V137.4H634V138.4H635V141.1H636V143.4H637V143.5H638V145.6H639V148.6H640V149.5H641V148.6H642V145.6H643V145.9H644V146.4H645V145.8H646V143.6H647V142.7H648V141.8H649V141.2H650V140.4H651V144H652V142H653V145.5H654V149.2H655V149H656V145.4H657V148H658V148.6H659V151.6H660V151.8H661V149.8H662V150.1H663V149.9H664V150.6H665V150.9H666V154H667V155.2H668V152.8H669V153H670V153.4H671V153.9H672V152.5H673V154.9H674V154.4H675V152.8H676V154.2H677V154.7H678V154.6H679V156.4H680V151.6H681V152.3H682V154.6H683V156.6H684V155.9H685V155.8H686V156.5H687V155.4H688V158.3H689V160.2H690V160.4H691V161.6H692V160.9H693V160.9H694V163.6H695V165.5H696V165.3H697V166.7H698V167.7H699V167.3H700V170.5H701V169.9H702V172.3H703V172.6H704V171.5H705V173.8H706V174.7H707V171.7H708V171.4H709V169.2H710V168.2H711V166.2H712V165.3H713V168.1H714V169.3H715V169H716V168.3H717V167.6H718V170.3H719V170.1H720V170.9H721V170.4H722V172.1H723V172.6H724V172.1H725V170.7H726V168H727V167.9H728V166.7H729V167.5H730V165.1H731V163.2H732V161.6H733V164H734V166.1H735V166.4H736V165H737V168.4H738V168.4H739V167.6H740V171.5H741V171.7H742V170.5H743V169.4H744V169.7H745V168.7H746V166.1H747V166.5H748V166.6H749V164H750V165.9H751V166.2H752V165.8H753V167.2H754V168.9H755V169.4H756V171.4H757V169.6H758V171.1H759V172.6H760V173.1H761V173.3H762V173.5H763V175.7H764V178.8H765V179.4H766V180.4H767V179.2H768V179.9H769V182.9H770V182.3H771V182.6H772V182H773V182.9H774V184.3H774.8V190.3H774V190.3H773V191.7H772V193.4H771V192.2H770V190H769V189H768V185.4H767V188.1H766V188.5H765V189.9H764V185.3H763V183.7H762V182.8H761V183H760V181.2H759V180.5H758V178.3H757V180H756V177.4H755V175.8H754V177.3H753V178.6H752V178.1H751V176.3H750V175.1H749V175H748V180.2H747V176.1H746V177.2H745V178H744V179.4H743V178.1H742V177H741V177.4H740V174.9H739V176.8H738V175.7H737V176H736V174.9H735V171.9H734V170.1H733V168.9H732V170.3H731V172.1H730V172.4H729V174.9H728V175.5H727V175.9H726V179.7H725V178H724V180.2H723V180.2H722V179.2H721V178.7H720V178.2H719V176.8H718V178.1H717V175.6H716V176.6H715V176.9H714V175H713V174.1H712V175.9H711V177.5H710V177.5H709V177.9H708V181.4H707V180.8H706V181.5H705V183.4H704V183.7H703V181.7H702V178H701V178.9H700V177.9H699V177.6H698V179.3H697V173.1H696V173.5H695V170.8H694V171.2H693V172.3H692V169H691V167.8H690V167.2H689V165.5H688V166.8H687V166.9H686V165H685V162.2H684V163.7H683V162.9H682V162.7H681V163.2H680V162.5H679V161.2H678V161H677V159.9H676V162.7H675V164.6H674V162.9H673V164.5H672V163.7H671V160.6H670V162.8H669V162.6H668V162H667V160.3H666V158.8H665V159.4H664V156H663V158.1H662V157.2H661V159.9H660V158.1H659V158.8H658V158.9H657V158.5H656V157.8H655V158.6H654V152.8H653V151.4H652V149.9H651V149.2H650V148.7H649V150H648V151H647V152.1H646V151.8H645V152.3H644V152.5H643V153.3H642V155.2H641V153.5H640V153.4H639V151.9H638V152.7H637V149.5H636V147.4H635V145.5H634V142.4H633V141.3H632V139.9H631V140H630V141.9H629V143.5H628V142.5H627V138.2H626V139.5H625V138.6H624V140.4H623V140.2H622V140H621V139.7H620V140.4H619V142.4H618V141.7H617V143.7H616V143.4H615V143.4H614V144.5H613V142H612V143.9H611V144.7H610V144H609V142.2H608V140.2H607V140.4H606V138H605V141.3H604V138.4H603V143.4H602V144.2H601V140.9H600V138.6H599V140.3H598V139H597V136.3H596V137.9H595V137.5H594V136.4H593V134.8H592V135.2H591V134.6H590V133.6H589V131.8H588V132.8H587V132.3H586V130.8H585V133.2H584V131.1H583V129.2H582V130.7H581V130.7H580V130.1H579V129.9H578V130H577V130.1H576V128.6H575V130.8H574V133.1H573V132.6H572V131.6H571V130.7H570V132.9H569V130H568V128.3H567V129H566V130H565V128.8H564V126.9H563V126.4H562V126.7H561V127H560V127.2H559V129.1H558V127.8H557V129.1H556V130H555V130.2H554V132.1H553V133.5H552V133.8H551V133.5H550V131.8H549V131.3H548V131.8H547V132.8H546V133.8H545V132.5H544V133.7H543V137.5H542V134.8H541V132.3H540V131.3H539V130.2H538V130.9H537V126.6H536V127.9H535V127.7H534V129.7H533V128.9H532V130.4H531V131.8H530V130.3H529V129.1H528V126.7H527V129.9H526V129.9H525V128.8H524V127H523V130.1H522V131.2H521V131.5H520V129.7H519V129.2H518V132H517V129.8H516V129.5H515V129H514V129H513V129.7H512V126.7H511V127.8H510V128.6H509V126.1H508V125.1H507V124.5H506V124H505V122H504V124.7H503V125.9H502V124.4H501V122.5H500V125.2H499V124H498V125.3H497V124.4H496V125H495V124.3H494V126.3H493V126.5H492V123.3H491V122.7H490V122.6H489V121.6H488V125H487V125.1H486V122.9H485V123.5H484V123H483V122.5H482V122.7H481V121.3H480V124.5H479V124.8H478V126.9H477V125.9H476V127.2H475V127H474V128.4H473V128.6H472V127.2H471V127.3H470V128.4H469V127.7H468V125.9H467V124.2H466V122.7H465V122.6H464V123.3H463V123.8H462V123.9H461V128.4H460V129.3H459V125H458V122.5H457V122.4H456V121.8H455V121.2H454V121.8H453V119.7H452V119.4H451V120.3H450V121.5H449V119.6H448V118H447V118.9H446V120.6H445V119.8H444V123H443V118.9H442V118H441V120.2H440V121.7H439V122.7H438V120.7H437V119.2H436V117.3H435V122.7H434V119.8H433V119.7H432V120.3H431V120.7H430V122.1H429V122.8H428V122.2H427V122.1H426V121.4H425V123.2H424V122.7H423V122.7H422V123.2H421V126.3H420V125.7H419V125.7H418V126.4H417V127.5H416V129H415V130.4H414V131.3H413V130H412V130.2H411V128.5H410V124.3H409V123.1H408V123.1H407V120.6H406V121.2H405V123.1H404V125.2H403V123.8H402V122.8H401V122.6H400V119.8H399V122.1H398V120.6H397V122.4H396V120H395V121.4H394V119.7H393V118.4H392V119.8H391V119.8H390V119.2H389V119.4H388V117.6H387V119H386V118.4H385V117H384V117.7H383V117.7H382V118.5H381V117.4H380V116.8H379V116.3H378V117.3H377V118.4H376V113.7H375V114.3H374V113.7H373V116.5H372V118.1H371V118.2H370V118.8H369V120.5H368V118.2H367V117.5H366V120.4H365V119.7H364V117.2H363V117.3H362V116.8H361V117.6H360V118.7H359V119.3H358V117.8H357V118.5H356V116.1H355V117.4H354V118.7H353V118.2H352V119H351V118.2H350V120.3H349V119.3H348V117.7H347V117.9H346V118.3H345V118.3H344V122H343V122.2H342V120.8H341V119H340V120.4H339V120.3H338V119.4H337V120.5H336V121.2H335V118.6H334V119.3H333V119.5H332V119.9H331V119.9H330V122.1H329V119.6H328V120.1H327V120.4H326V119.8H325V119.2H324V119.5H323V119.1H322V120.5H321V120.3H320V122.9H319V121.3H318V120.5H317V120.8H316V118H315V118.6H314V120.8H313V118.8H312V120.2H311V119.4H310V120.3H309V119H308V121.7H307V120.8H306V121.4H305V122.3H304V123.2H303V120.2H302V120.6H301V117.3H300V117.8H299V117.6H298V119.8H297V120.4H296V120.9H295V119.4H294V120.9H293V120.8H292V118.1H291V118.6H290V120.8H289V119.4H288V118.6H287V119.3H286V118.1H285V115.9H284V118.4H283V118.3H282V119.1H281V120.4H280V118.7H279V119.7H278V119.5H277V119.2H276V122.5H275V119.5H274V118.4H273V119H272V116.7H271V114.5H270V114H269V115.4H268V117.3H267V115.3H266V119.9H265V120.1H264V120.4H263V120.1H262V123.6H261V120.8H260V117.2H259V120.7H258V117.8H257V119.8H256V122.1H255V119.7H254V118.8H253V117.6H252V118.7H251V118H250V117.6H249V118.5H248V118.6H247V116.4H246V116.7H245V117H244V116.9H243V121.2H242V121.1H241V120.5H240V119.3H239V118.2H238V119.1H237V119.8H236V119.3H235V119.6H234V117.6H233V120.5H232V120.2H231V120.3H230V119.2H229V120.1H228V117H227V118.8H226V121.9H225V122.3H224V119.1H223V119H222V121H221V119.7H220V118.3H219V119.5H218V122H217V121.2H216V121.2H215V122H214V123.6H213V123.9H212V123.8H211V124H210V125H209V124.4H208V125.2H207V125H206V125.3H205V124.5H204V125.2H203V126.5H202V126.2H201V127.7H200V127.6H199V125.7H198V125.9H197V124.1H196V122.8H195V123.8H194V126.5H193V125.2H192V122.6H191V122.3H190V121.8H189V125.2H188V126.2H187V126.7H186V125.7H185V123.1H184V125.9H183V124H182V124.5H181V129.5H180V127.7H179V125.4H178V125.5H177V127.2H176V128.6H175V127.9H174V126.4H173V125.7H172V127.6H171V130.7H170V130.6H169V131.8H168V130.2H167V130.1H166V127.3H165V126H164V125.7H163V125.7H162V124.2H161V124.1H160Z"/>
<path fill="none" stroke="#7f7f7f" stroke-width="1.0" stroke-linejoin="round" d="M180.5 196.2L180.8 199.9L180.8 211.1L180.9 198.7L181.2 199.2L181.3 196.6L181.4 188.6L181.7 214.4L181.9 198.6L181.9 190L182.2 202.4L182.2 203.3L182.5 195.6L182.6 201.2L182.8 233.3L182.9 205.5L183 200.5L183.2 209.7L183.4 207.7L183.5 184.3L183.7 217.6L183.8 198.7L184 211.2L184.1 215L184.4 202.1L184.5 208.1L184.7 211.1L184.9 221.2L185 204.2L185.2 210.6L185.3 202.1L185.5 213.7L185.7 186.9L185.9 215.6L186 204.4L186.2 198.2L186.3 192.9L186.4 215.9L186.7 195.2L186.8 201.5L186.8 194.7L187.1 190.8L187.1 216.1L187.3 194.1L187.5 205.6L187.7 193.1L187.8 197L188.1 204.4L188.2 199.9L188.4 214.6L188.4 227.2L188.6 207.3L188.7 216.8L189 201.6L189.1 183.6L189.2 214.8L189.5 217.7L189.6 197.2L189.8 217.2L189.8 205L190.1 203.1L190.2 188.9L190.4 202.6L190.6 197.2L190.7 216.3L190.9 193L191.1 226.3L191.2 226.8L191.3 200.9L191.5 202.7L191.7 198.5L191.8 208.7L192.1 202.4L192.2 205.7L192.3 202.3L192.6 206.6L192.6 219.9L192.8 201.2L193.1 201.5L193.1 200.3L193.2 193.5L193.5 201.9L193.7 211.2L193.8 207.6L194 202.6L194.1 195.2L194.2 212.4L194.3 195.9L194.7 221.8L194.7 222.4L194.9 221.6L195.1 208.9L195.2 203.3L195.4 220.9L195.6 202.2L195.8 215.2L195.9 213.6L196 222.6L196.2 215.8L196.3 222.4L196.5 215.4L196.6 201.3L196.8 220.6L197 227.3L197.1 215.6L197.3 212.6L197.4 221.6L197.6 202.5L197.8 220.6L197.9 209.2L198 204.4L198.3 213.5L198.4 215.1L198.6 211.9L198.8 213.5L198.9 208.8L199 216.5L199.3 211.6L199.4 206L199.6 223.9L199.7 202.9L199.8 223.9L200.1 204.6L200.1 202.3L200.2 218.6L200.4 205.7L200.7 231.4L200.9 223.6L200.9 221.7L201.2 202.7L201.3 224L201.4 215.6L201.5 219.9L201.8 215.1L201.8 206.4L202.2 212.4L202.2 217.3L202.5 218.5L202.6 217.5L202.8 212.2L203 210.6L203 224L203.2 202.2L203.4 218.2L203.6 203.1L203.7 224L203.9 205.9L204 220.4L204.2 222.7L204.3 201L204.5 224.4L204.6 201.5L204.8 206L205 203L205.2 208L205.4 223.6L205.4 207.9L205.6 216.6L205.8 223L206 210L206.1 211.1L206.2 200.7L206.4 211.3L206.6 203.4L206.8 199.5L206.8 199L207 212L207.1 204.5L207.5 218.2L207.6 223.2L207.7 214.9L207.9 199L208 214.1L208.2 201.5L208.3 221.6L208.4 212.6L208.7 210.5L208.9 210.1L209.1 207.8L209.1 199.4L209.3 213.5L209.4 202.2L209.7 210.6L209.9 221L209.9 206L210.1 219.4L210.2 224L210.4 204.2L210.6 198.6L210.8 205.5L210.9 216.8L211 208.9L211.2 221.6L211.3 212.9L211.6 210L211.7 205.2L211.9 223.1L211.9 203.7L212.2 215.1L212.4 210.6L212.4 208.7L212.6 200.6L212.8 210.5L213 202.9L213.2 222.5L213.2 223.2L213.6 200.7L213.6 215.2L213.7 216.9L213.9 201.2L214.1 208.4L214.3 205.7L214.3 223.2L214.6 211.9L214.6 203.1L214.9 213.9L215.1 210.4L215.3 211.4L215.3 197.8L215.6 215.4L215.6 211.5L215.8 215.6L216.1 210.8L216.2 206L216.3 222.7L216.6 218.3L216.6 222.7L216.9 197.7L217 197.6L217.1 216.3L217.4 207.2L217.4 197.5L217.7 221.8L217.8 202.2L217.9 206.8L218.1 220.9L218.3 200.6L218.4 203.8L218.7 219.2L218.7 214.8L218.9 216.9L219 211.3L219.3 209.8L219.3 214.5L219.6 217.4L219.7 220.1L219.9 211.4L220 216.1L220.2 204.6L220.3 219.8L220.5 219.6L220.7 219.5L220.8 207.1L221 196.7L221.1 206.4L221.2 212.1L221.5 199.4L221.6 206.1L221.7 218.7L221.9 196.5L222.1 202L222.4 210.1L222.4 207.4L222.5 197L222.7 206.1L222.9 212.8L223 209.2L223.3 196.5L223.3 197.5L223.6 199.4L223.6 208.4L223.9 196.1L224 216.7L224.2 204.1L224.4 211.8L224.5 210.1L224.7 206.4L224.9 195.8L225 204.1L225.2 217.9L225.3 195.7L225.4 207.7L225.7 196.6L225.8 213.1L225.9 207.1L226 206.4L226.3 209.4L226.4 212.2L226.6 204.2L226.8 208.4L227 211.7L227.1 193.9L227.3 206.4L227.5 204.4L227.6 203L227.7 201.3L227.8 210.9L228.1 205.7L228.2 202.7L228.4 214L228.4 211.6L228.6 204.6L228.8 199.8L228.9 192.8L229.2 216.7L229.4 209.9L229.4 204.3L229.5 212.8L229.7 195.1L230 215.8L230.1 202.1L230.3 208.3L230.5 199L230.5 201.5L230.8 196.2L230.8 207.3L231 214.4L231.2 212.7L231.5 199.1L231.5 205.8L231.7 206.5L231.8 194.2L232 212.3L232.2 210.9L232.4 201L232.4 194L232.6 197.3L232.8 209.2L233.1 199.5L233.1 203.8L233.4 207.3L233.4 202.2L233.6 201.2L233.8 201.4L233.9 211.5L234.1 211.7L234.3 207.4L234.5 198.2L234.7 212.8L234.8 196.1L234.8 208.1L235 212L235.2 198.4L235.3 196.6"/>
<path fill="#7f7f7f" d="M235.0 194H236V183.8H237V182.5H238V180.8H239V179.7H240V177.7H241V180.2H242V179.2H243V180.8H244V182.2H245V182.9H246V182.5H247V179.1H248V177.9H249V182.6H250V179.5H251V177H252V176.5H253V176.1H254V177.9H255V177H256V181.9H257V180.9H258V182.2H259V183.4H260V182.3H261V175.1H262V173.8H263V177.9H264V174.8H265V172.2H266V174.6H267V172.6H268V175H269V179.4H270V179.3H271V182.6H272V184.4H273V189.3H274V186.3H275V183.5H276V185.1H277V180.9H278V179.8H279V180.7H280V176.1H281V175.1H282V175.3H283V175.6H284V177.3H285V177.5H286V179.7H287V181.1H288V181H289V177.2H290V174.5H291V172.8H292V173.4H293V173.1H294V178H295V174.8H296V178.2H297V181H298V182.5H299V182.9H300V184H301V179H302V177.1H303V179.2H304V179.9H305V177.7H306V175.6H307V174.2H308V173.3H309V171.9H310V170.4H311V171H312V167.8H313V166.2H314V168.8H315V173.6H316V168.1H317V169.7H318V169.6H319V170.8H320V172.3H321V170.9H322V173.1H323V171.3H324V170.4H325V170.4H326V168.8H327V168.4H328V170.2H329V168.7H330V165.7H331V165.5H332V164.8H333V166.4H334V165.5H335V163.9H336V165.9H337V164.5H338V165.6H339V163.1H340V160.8H341V161.2H342V161.3H343V160.4H344V157.4H345V158.5H346V155.2H347V157H348V157H349V156.3H350V158.3H351V157.8H352V158.8H353V158.8H354V161.7H355V160.6H356V160.2H357V159.8H358V156.9H359V154.3H360V151.9H361V149.3H362V151.2H363V153.9H364V155.7H365V156.6H366V157.4H367V155.4H368V157.2H369V155.3H370V156H371V156.6H372V153.1H373V154.5H374V155.8H375V153.9H376V154.9H377V151.3H378V155.9H379V159.3H380V155.5H381V153.8H382V156.5H383V156.8H384V156.4H385V154.5H386V156.8H387V157.3H388V155.9H389V152.2H390V152.2H391V151.6H392V153.5H393V155.2H394V152.3H395V151.9H396V148.9H397V150H398V152.6H399V157H400V156H401V154.5H402V155.6H403V156.7H404V156.2H405V155.2H406V158.5H407V159.4H408V156.9H409V158.2H410V158.4H411V156.6H412V157.1H413V158.1H414V155.6H415V156.6H416V156.2H417V155H418V152.6H419V154.3H420V149.3H421V145H422V143.8H423V144.2H424V144.3H425V142.3H426V143.1H427V141.4H428V143.6H429V145H430V147H431V145.4H432V146.1H433V144.1H434V144.8H435V145.5H436V146.4H437V148.5H438V147.9H439V148.4H440V145H441V146H442V143.4H443V142.8H444V141.9H445V143H446V141.7H447V142.1H448V139.8H449V142.4H450V144.3H451V143.3H452V142.6H453V144.9H454V143.2H455V143.6H456V144.7H457V143.5H458V144.9H459V147.3H460V146.5H461V145.2H462V146.3H463V147.7H464V146.3H465V142.7H466V144.8H467V144.6H468V144.3H469V141H470V141.4H471V140.9H472V139.9H473V139.3H474V140.9H475V137.9H476V140.5H477V142.5H478V143H479V141.7H480V141.5H481V144H482V144.7H483V143.2H484V143.7H485V145.7H486V146.9H487V145.7H488V145.2H489V147.4H490V146.2H491V144H492V141.5H493V140.7H494V142.1H495V141.6H496V134.7H497V139.6H498V139.6H499V141H500V145.2H501V143.7H502V145.3H503V144H504V146.2H505V143.7H506V145.4H507V145H508V143.5H509V142.5H510V145.4H511V144.7H512V139.7H513V142.9H514V143.2H515V143H516V140.9H517V139.8H518V138.3H519V140.3H520V138.8H521V141H522V141.2H523V140.6H524V142.6H525V143.7H526V143.4H527V143.6H528V140.7H529V140.9H530V143.2H531V144H532V144.4H533V144.5H534V143.6H535V142.8H536V144H537V142.4H538V142.9H539V143.9H540V142.5H541V143.6H542V140.9H543V143H544V143.1H545V144H546V142.3H547V142.6H548V142.2H549V140.9H550V139.9H551V141.7H552V144H553V141.3H554V144.5H555V142H556V141.6H557V141.2H558V142H559V142.3H560V142.9H561V145.1H562V145.5H563V142.7H564V146.6H565V146.8H566V145.5H567V142.2H568V145H569V143.4H570V140.3H571V144.8H572V144.9H573V144H574V147.2H575V145.9H576V144.9H577V144.3H578V142.3H579V138.6H580V140.6H581V137.6H582V140.2H583V141H584V138.6H585V138.5H586V135.9H587V136.6H588V138.8H589V135.4H590V139.7H591V136.5H592V141H593V137.6H594V139.8H595V141.4H596V141H597V140.9H598V141.4H599V140.5H600V140.7H601V141.1H602V141.1H603V144.3H604V145.8H605V138.8H606V144.1H607V143.3H608V142.2H609V145.8H610V145.6H611V146.1H612V146H613V143.9H614V145.9H615V144.6H616V147.6H617V145.3H618V144.9H619V145.8H620V146.7H621V144.8H622V144.1H623V143.7H624V142H625V141.3H626V143.1H627V143.8H628V145H629V142.6H630V143.5H631V142.4H632V143.7H633V139.6H634V143.8H635V143.2H636V140.8H637V142H638V141.8H639V144.7H640V144H641V144.5H642V145.6H643V144.3H644V146.8H645V143.9H646V143.2H647V142.3H648V145.1H649V145.7H650V144.4H651V146.3H652V143.3H653V143.6H654V144.9H655V143.6H656V141.9H657V143.4H658V142.6H659V142.7H660V143H661V141.4H662V141.1H663V140H664V144.9H665V143.9H666V141.4H667V140.6H668V141.2H669V143.6H670V142.4H671V142.6H672V143.2H673V143.3H674V142.4H675V143.6H676V145.2H677V147.6H678V144.6H679V144.8H680V145.2H681V143.7H682V143.3H683V143.8H684V142.3H685V141.6H686V141.7H687V143.3H688V142H689V142.5H690V141.8H691V143.9H692V144.2H693V143H694V141.8H695V142.8H696V144.2H697V140.7H698V138.8H699V139.9H700V143.3H701V143.7H702V143.5H703V141.6H704V143.6H705V141.4H706V144.5H707V141.7H708V144.4H709V140.7H710V140H711V139.3H712V139.2H713V139.8H714V140.9H715V140.6H716V138.3H717V140.2H718V138.8H719V140.3H720V139.4H721V142H722V141.8H723V145H724V144H725V142.7H726V139.8H727V140H728V141.1H729V140.4H730V140.5H731V139.3H732V138.7H733V138.6H734V139.8H735V140H736V140.8H737V141.7H738V140.3H739V140.8H740V144.9H741V143H742V145.3H743V144.6H744V141.1H745V145.3H746V143.2H747V142.5H748V138.1H749V142.3H750V143.6H751V142.2H752V142.2H753V141.6H754V142.8H755V144.6H756V142.1H757V141.4H758V138.6H759V140.7H760V143.9H761V143.1H762V141.6H763V144.5H764V142.5H765V142.2H766V142.7H767V142.1H768V143.2H769V138.6H770V141.8H771V140.3H772V142.1H773V141H774V141.3H775V142.4H776V143.3H777V139.4H778V141.3H779V141.7H780V142.9H781V136.3H782V140.2H783V140.4H784V140.8H785V139H786V137.7H787V136.7H788V135.8H789V136.8H790V138.6H791V140.6H792V141.1H793V140H794V143H795V143.4H796V144.6H797V144.1H798V145.5H799V145.9H800V144.7H801V143.5H802V144.7H803V145.4H804V144.2H805V144H806V144H807V146.1H808V146.1H809V146.5H810V147.8H811V145.7H812V146.7H813V145.2H814V143.9H815V145.6H816V145.9H817V144.9H818V145H819V142.6H820V141.3H821V144.3H822V145.4H823V142.5H824V137.5H825V141.5H826V143H827V143H828V144.5H829V147.1H830V147.5H831V147H832V142.2H833V145.4H834V145.3H835V146.7H836V143.7H837V144.4H838V141.3H839V142.8H840V143.6H841V144.5H842V143.5H843V144.7H844V145.7H845V144H846V146.1H847V149.1H848V147.9H849V145.8H850V145.2H851V144.5H852V144.9H853V145H854V144.7H855V144.1H856V141.8H857V141.8H858V140.6H859V143.9H860V147.7H861V147.8H862V148.1H863V151.8H864V150.8H865V162.9H864V160.3H863V157.3H862V158.1H861V157.5H860V155.5H859V151.3H858V149.4H857V146.7H856V147.3H855V150.2H854V152.4H853V152.6H852V152.3H851V155H850V153H849V154.8H848V153.7H847V155.4H846V152.9H845V153.5H844V152.7H843V152.5H842V151.3H841V152.1H840V148.2H839V148.9H838V149.3H837V151H836V151H835V152.2H834V153.1H833V150.1H832V150.6H831V151.9H830V151.6H829V150.3H828V150.7H827V151.5H826V149.4H825V150.1H824V151.8H823V151.1H822V152.2H821V150.9H820V149.4H819V150.3H818V155H817V153.9H816V151.1H815V153.5H814V153.4H813V152.7H812V154H811V153.6H810V152.7H809V155.8H808V153.7H807V153.5H806V152.2H805V149.6H804V149H803V151.5H802V151H801V150.8H800V150.4H799V150.9H798V152.2H797V152.4H796V149.5H795V150.2H794V150.6H793V146.6H792V145H791V144.1H790V141.4H789V143.1H788V143H787V146.6H786V148.1H785V148.3H784V147.8H783V149.6H782V148.9H781V151.2H780V151H779V151.2H778V149.5H777V148.2H776V148.9H775V148.2H774V146.8H773V148.9H772V148.3H771V148.2H770V151.8H769V150.2H768V151.3H767V149.6H766V149.9H765V150H764V153.1H763V151H762V149.6H761V150.7H760V149.8H759V149.2H758V151.7H757V152.6H756V152.5H755V151.8H754V151.1H753V151.5H752V150.5H751V151.6H750V152.4H749V152.1H748V151.2H747V150.5H746V151.4H745V153.5H744V151.7H743V150.3H742V149.9H741V149.9H740V148.4H739V149.7H738V146H737V146.5H736V144.5H735V143.9H734V143.3H733V145.4H732V146H731V147.3H730V145.8H729V146.4H728V145.2H727V146.3H726V147.4H725V150.1H724V152.6H723V151.7H722V153.2H721V147.2H720V147.2H719V148.4H718V147.5H717V148.7H716V146.2H715V147.1H714V146.6H713V149.6H712V146.8H711V149.5H710V151.7H709V152.9H708V150.1H707V147.9H706V148.9H705V148H704V151.9H703V150.3H702V148.5H701V149H700V150.1H699V151.2H698V149.1H697V149.4H696V150.4H695V151.8H694V151H693V151.8H692V152.1H691V152.1H690V151.3H689V150H688V149H687V149.2H686V148.6H685V150H684V150.9H683V151.2H682V152H681V152.6H680V155.1H679V154.7H678V152.6H677V151.6H676V156.9H675V152.1H674V151H673V149.4H672V149H671V148.7H670V148.8H669V150.8H668V150.3H667V151.8H666V152.8H665V150.1H664V149.4H663V149.8H662V152.7H661V151.2H660V148.8H659V149.7H658V152.2H657V151.3H656V149.9H655V148.7H654V152H653V150.7H652V150.6H651V153.6H650V152.5H649V152.8H648V152.3H647V150.3H646V151.8H645V152.4H644V156.4H643V154.8H642V153.1H641V151.3H640V147.5H639V148H638V147.6H637V149.2H636V151.3H635V149.7H634V149.3H633V150.2H632V149.9H631V149H630V150.2H629V149.8H628V148.3H627V149.3H626V149H625V148.5H624V150.4H623V151.2H622V154.6H621V152.2H620V152.4H619V150.7H618V150.6H617V151.4H616V153.6H615V153.3H614V152.1H613V152.7H612V153.4H611V155.1H610V152.6H609V153.9H608V151.4H607V151.6H606V152.7H605V150.6H604V151.7H603V151.5H602V153.2H601V149.7H600V148.7H599V147.4H598V147.2H597V149.5H596V150.4H595V150.1H594V146.3H593V147.9H592V147.1H591V147.8H590V145.7H589V146.1H588V148.1H587V149.4H586V146.4H585V149.6H584V151.4H583V148.4H582V147.7H581V149.1H580V149.5H579V149.9H578V153.3H577V153.2H576V151.6H575V153.6H574V152.1H573V151.7H572V150.5H571V150.4H570V151.2H569V151H568V151.1H567V151.8H566V152.6H565V151.5H564V153.7H563V150.5H562V151.6H561V152.5H560V152H559V148.2H558V150.8H557V150.3H556V152.1H555V151.6H554V149.6H553V151.6H552V153H551V148.6H550V146.5H549V147.3H548V147.3H547V149.4H546V148.6H545V150.2H544V151.4H543V150.5H542V151.1H541V151.3H540V152.4H539V154.1H538V152.4H537V157.2H536V155.5H535V152.5H534V150.8H533V149.2H532V151.2H531V152.6H530V151.6H529V150.8H528V150.1H527V150.2H526V148H525V147.9H524V148.8H523V148.8H522V146.6H521V149.3H520V148H519V149.9H518V150.8H517V152.7H516V154.5H515V151.2H514V148.6H513V150.4H512V150.7H511V152.4H510V153.4H509V153.4H508V155.5H507V154.5H506V155.6H505V153.4H504V150.9H503V150.3H502V150.3H501V151.2H500V149.2H499V146.6H498V146.3H497V152.9H496V149.3H495V147.5H494V150.1H493V152.7H492V151.7H491V154.2H490V156.4H489V155.7H488V155.3H487V152.1H486V152.8H485V152.2H484V150.8H483V150.7H482V152.6H481V152.2H480V155.9H479V153.3H478V151.1H477V149.5H476V150.6H475V149.1H474V149.3H473V148.1H472V148.3H471V148.8H470V148.7H469V150.1H468V152.9H467V154.6H466V159.5H465V156.1H464V156.5H463V154.2H462V153.1H461V152.7H460V155.4H459V154.6H458V153.1H457V153H456V152.6H455V152.1H454V153H453V151.8H452V152.4H451V152.7H450V152.6H449V152.8H448V150.5H447V150.1H446V151.3H445V150.8H444V153.7H443V153.7H442V153.3H441V155H440V156.5H439V155.4H438V156.2H437V155.8H436V155.2H435V154.5H434V155.1H433V153.2H432V154.8H431V154.6H430V152.7H429V154H428V152.9H427V152.5H426V149.4H425V151.1H424V151H423V154.3H422V156.3H421V159H420V161.4H419V163.9H418V164.8H417V163.9H416V165.5H415V165.6H414V164.1H413V164.1H412V165.9H411V164.3H410V165.2H409V164H408V164.2H407V164.8H406V164.4H405V165.9H404V166.9H403V162.9H402V162.5H401V164.8H400V162.3H399V158.8H398V157H397V157.1H396V158H395V160.4H394V162.6H393V163.4H392V160.4H391V163.2H390V161.3H389V162H388V166.4H387V166.1H386V164.8H385V167.6H384V164.6H383V163H382V164.5H381V165.8H380V163.3H379V165.8H378V166.8H377V166.2H376V164.6H375V165.4H374V165.3H373V165.9H372V162.8H371V163H370V164.8H369V166H368V165.5H367V163.4H366V166.3H365V164.4H364V163.7H363V165H362V160.5H361V161.1H360V163.8H359V164.4H358V166.2H357V167.5H356V169.9H355V169.6H354V169.1H353V169.2H352V167.3H351V168.1H350V165.3H349V167.4H348V166.7H347V166.9H346V168H345V165.1H344V170.5H343V169.9H342V173.4H341V171.2H340V173.5H339V169.9H338V171.3H337V173H336V173.9H335V175.2H334V175.4H333V176.1H332V172.1H331V176.3H330V177.4H329V177.2H328V179.9H327V181H326V180.4H325V180.4H324V180.3H323V179.5H322V180.7H321V179.8H320V180.7H319V180.3H318V179.5H317V183.1H316V178.4H315V181H314V181.9H313V178H312V178.6H311V177.2H310V179.6H309V180.2H308V182.1H307V187.4H306V186.1H305V188.4H304V188.9H303V189.8H302V190.7H301V190.1H300V191.6H299V189.7H298V188.1H297V187.9H296V185.1H295V183.7H294V182.8H293V182.2H292V184.1H291V184.7H290V187.6H289V192.6H288V196.9H287V191.3H286V190.8H285V188.5H284V184.8H283V183.9H282V183.5H281V186.7H280V188.8H279V192.5H278V196.8H277V196.1H276V201.9H275V201.5H274V198.6H273V197.3H272V197.8H271V196.1H270V194.1H269V195.2H268V192.7H267V191.4H266V190.4H265V188.1H264V186H263V185.8H262V188.6H261V193.4H260V191.1H259V192.2H258V194.8H257V192.2H256V194.2H255V189.4H254V191H253V190.3H252V193.8H251V193.1H250V193H249V192.8H248V192.5H247V197.3H246V196.8H245V192.7H244V192.9H243V195.6H242V196.5H241V194.5H240V195.3H239V198.2H238V198.1H237V194.9H236V205.4H235Z"/>
<path fill="none" stroke="#bcbd22" stroke-width="1.0" stroke-linejoin="round" d="M531 188.4L531.2 175.7L531.3 188.7L531.4 174.7L531.6 158.7L531.8 160.3L532 147.5L532.1 161.6L532.3 188.2L532.4 190L532.6 149.8L532.8 199.1L532.9 151.1L533 160.5L533.2 183.2L533.5 158.6L533.5 218.8L533.7 163.7L533.8 198.1L534.1 180.2L534.2 152.1L534.3 170.7L534.5 160.4L534.6 157.5L534.9 176.6L535 174L535.1 179.2L535.3 170.1L535.5 162.1L535.6 164.7L535.8 179L536 207.3L536.1 162.8L536.4 157.9L536.4 165.4L536.5 180.3L536.7 173.9L537 186.3L537 171.9L537.3 174.2L537.4 182.1L537.5 180.8L537.8 166.3L537.9 156.9L538.1 177.2L538.3 160.8L538.3 157.9L538.6 168.3L538.7 164L538.7 158.3L539 179.4L539.1 179.3L539.3 157.1L539.5 208.7L539.6 160.5L539.9 175.9L539.9 186.3L540 157.2L540.2 181.7L540.4 185.3L540.6 205.6L540.8 159.4L541 153.7L541.2 210.3L541.3 174.3L541.5 158.5L541.6 186.7L541.8 157L541.9 164.6L542.1 176.8L542.1 168.3L542.3 177.3L542.6 171.8L542.7 191.6L542.9 204.4L543.1 185.7L543.2 167.7L543.3 182.8L543.4 170L543.7 183.2L543.8 171.9L544 165.8L544.2 209.2L544.3 185L544.3 160.7L544.5 156.7L544.8 187.3L545 211.8L545.1 173.1L545.3 188.9L545.4 182.6L545.6 165.6L545.6 212.8L545.9 167.5L545.9 158.9L546.2 187.9L546.3 159.5L546.6 178.7L546.7 181.9L546.7 188.1L547.1 159.4L547.1 189.3L547.3 184.1L547.5 203.3L547.6 157.6L547.9 160.1L547.9 188.6L548.2 177.7L548.2 172.3L548.5 157.3L548.6 183.6L548.8 165.5L548.8 157.3L549.1 187.5L549.3 159.3L549.4 164.5L549.5 171.7L549.8 185.4L549.9 189.4L550 178.9L550.2 155.5L550.4 174.9L550.6 198.6L550.6 166.8L550.9 173.5L551.1 172.8L551.2 165.8L551.2 190.4L551.5 182.3L551.6 162.8L551.8 189.3L551.9 159.3L552.2 191.1L552.2 179L552.5 183.6L552.7 179.2L552.8 185.7L552.8 173.1L553.1 191.8L553.3 168.4L553.5 160.2L553.5 180.1L553.8 183.3L553.9 160.5L554.1 162.9L554.2 160.6L554.3 189.8L554.5 178.7L554.7 156.2L554.8 192L555.1 190.8L555.2 153.2L555.3 197.5L555.4 153.5L555.7 150.7L555.9 175.1L556 148.8L556.2 200.5L556.3 167.9L556.4 172.7L556.5 173.3L556.7 145.8L556.9 172.2L557.1 161.9L557.3 153.6L557.4 183.7L557.5 172L557.7 148.8L557.9 173.5L558 171.9L558.1 168.8L558.4 175.3L558.6 164L558.7 162.1L558.9 144.3L559.1 157.9L559.2 169.4L559.3 165.8L559.5 143.4L559.6 168.7L559.8 173.2L560 185.7L560.1 168.9L560.3 139.2L560.4 179.4L560.6 143L560.8 178L560.9 148.2L561.1 188.5L561.2 144.3L561.3 183.4L561.7 187L561.8 193L561.9 159.6L562 166.1L562.2 160.3L562.4 153L562.6 204.1L562.6 176.4L562.9 169.2L563 151.6L563.1 155.5L563.3 168.8L563.5 167.3L563.7 163.7L563.9 165L563.9 179.3"/>
<path fill="#bcbd22" d="M563.2 159.1H564V161.2H565V154H566V155.9H567V149.9H568V153H569V146H570V145.6H571V150.2H572V147.1H573V149.5H574V146.4H575V147.5H576V148.9H577V146.6H578V142.9H579V142.6H580V138.7H581V143.2H582V140.8H583V144.9H584V141.1H585V143.3H586V143H587V143.1H588V145.9H589V146.1H590V141.4H591V143.6H592V145.3H593V144.5H594V145H595V144.1H596V145.8H597V147.5H598V142H599V142.4H600V144.2H601V141.6H602V137.8H603V142H604V140.2H605V139.7H606V138.4H607V137H608V139.7H609V139.2H610V140.6H611V144.4H612V145.6H613V151.4H614V153.3H615V153.4H616V150.2H617V153.7H618V152.2H619V147.7H620V147.7H621V146H622V143.5H623V141.9H624V144.6H625V145.9H626V149.9H627V149.9H628V150.2H629V146.8H630V147H631V141.3H632V138.4H633V135H634V132.5H635V135.1H636V131.2H637V129.4H638V130.3H639V134.4H640V138.3H641V140.2H642V143.2H643V141.5H644V142H645V140.4H646V139.4H647V138.9H648V139.6H649V139.2H650V135.1H651V137.2H652V134.4H653V134.5H654V133.2H655V132.1H656V129.5H657V131.7H658V132.2H659V132.5H660V131.9H661V131.6H662V126.2H663V130H664V131.7H665V131.7H666V131.6H667V128.1H668V131.5H669V130.7H670V129.4H671V128.7H672V128.7H673V130.2H674V130.1H675V130.2H676V132.7H677V130.2H678V132.4H679V132.7H680V132H681V137.9H682V138.6H683V138.4H684V139.8H685V136.3H686V137.5H687V134.3H688V133.3H689V130.8H690V127.8H691V126H692V125.5H693V125.1H694V126.4H695V123.7H696V123.6H697V129.1H698V125.5H699V128.3H700V130.3H701V129.2H702V127.3H703V127.1H704V129.3H705V128.1H706V126.2H707V127.7H708V124.2H709V123H710V127.6H711V124.2H712V121.7H713V121.8H714V120.3H715V122.8H716V123.9H717V123.6H718V122.8H719V121.5H720V119.8H721V121H722V118.6H723V119.7H724V118.2H725V116.5H726V116.2H727V117H728V118.5H729V116.9H730V114.6H731V121.8H732V118.7H733V119.1H734V124.7H735V121.1H736V121.2H737V122.1H738V124.1H739V123.6H740V121.7H741V119.8H742V117.4H743V117.2H744V119.3H745V120.5H746V121.1H747V118.5H748V117.2H749V116.1H750V116.3H751V115.9H752V116.8H753V116.9H754V116.6H755V115.2H756V117.9H757V118.3H758V117.3H759V112.6H760V114H761V113.1H762V114.7H763V113.7H764V111.3H765V109.4H766V113.5H767V113.3H768V113H769V113.9H770V111.9H771V109.2H772V107.9H773V111.1H774V110.8H775V110H776V111.2H777V110.6H778V112.3H779V114.7H780V114.8H781V114.7H782V111.6H783V114.6H784V117.4H785V116.3H786V117.7H787V115.1H788V114.3H789V115.4H790V117.5H791V114.5H792V114.1H793V115.5H794V114.6H795V114.7H796V110.3H797V112.1H798V112.1H799V116.5H800V113.4H801V114.1H802V113.3H803V111.9H804V112H805V112.5H806V111.4H807V111.7H808V109.8H809V110.1H810V109H811V106.4H812V107.6H813V109.1H814V111.2H815V110.6H816V112.3H817V112.2H818V111.8H819V108.5H820V108.9H821V109.1H822V109.6H823V110.8H824V111.4H825V112.9H826V110.4H827V109.2H828V109.2H829V109H830V110.7H831V109.4H832V109.7H833V108.8H834V107.5H835V111.1H836V110.5H837V110.3H838V108.8H839V108.4H840V109H841V108.9H842V107.8H843V106.9H844V105.7H845V105.4H846V106H847V107.6H848V106.7H849V107.2H850V103.9H851V107.5H852V106H853V107.8H854V109.3H855V110.5H856V112.7H857V110.7H858V112.1H859V108.4H860V108.8H861V109.3H862V108.8H863V108.1H864V108.2H865V116.4H864V114.4H863V116.3H862V117.6H861V118.8H860V119.4H859V119H858V118.9H857V117.4H856V117.4H855V116.5H854V113.5H853V113.4H852V114.2H851V113H850V112.9H849V113.5H848V112H847V112.1H846V113.8H845V114.6H844V115.7H843V116.1H842V118.5H841V115.8H840V113.9H839V114.8H838V118.5H837V120.3H836V117H835V115.6H834V115.4H833V115.4H832V115.9H831V116.1H830V114.7H829V117.1H828V117.1H827V119.6H826V119.1H825V117.4H824V118.3H823V116.7H822V116.2H821V116.5H820V117.8H819V117.9H818V115.8H817V115.1H816V118.2H815V116.8H814V119H813V118.8H812V119.3H811V116.4H810V117.9H809V117.3H808V118.5H807V119.4H806V121.5H805V120.4H804V121.8H803V122.4H802V120.9H801V124.3H800V122.2H799V121.3H798V118.4H797V120.4H796V118.5H795V121.2H794V122.4H793V121.5H792V122.1H791V120.9H790V123.7H789V121.6H788V121.9H787V120.7H786V121.8H785V124.6H784V123.2H783V122.3H782V123.1H781V122.6H780V123.6H779V121.6H778V120.2H777V117.6H776V119H775V118.1H774V117.2H773V116.4H772V119.8H771V117.5H770V119.7H769V122.1H768V122.6H767V122H766V124.2H765V120.7H764V122.1H763V123.2H762V123.8H761V123.1H760V124.2H759V126.3H758V127.3H757V128.4H756V128.1H755V128.7H754V125H753V127.4H752V124.5H751V125.8H750V126H749V125.3H748V126.3H747V125.8H746V126.1H745V128.3H744V126.3H743V130.6H742V126.8H741V128.5H740V128.9H739V130.4H738V132.7H737V130.4H736V135.3H735V134.3H734V130.3H733V126.8H732V126.1H731V124.6H730V125.9H729V127.7H728V125.7H727V126.8H726V124.1H725V125.8H724V126.3H723V128.5H722V131.7H721V131.5H720V136.3H719V133.3H718V135.2H717V135.3H716V129.8H715V130.6H714V130H713V132.6H712V133.9H711V134.2H710V135.2H709V136.2H708V135.4H707V137.4H706V137.2H705V136.1H704V133.8H703V134.3H702V138.8H701V136.9H700V136.6H699V138.6H698V136.2H697V136.4H696V136.2H695V136.5H694V136.1H693V136.9H692V136.4H691V134.2H690V136.5H689V143.2H688V145H687V146H686V149.1H685V150H684V148.7H683V149.1H682V149.6H681V140.6H680V139.6H679V141.6H678V142.6H677V141.6H676V140.3H675V138.7H674V136.8H673V138.5H672V138H671V136.8H670V138H669V139.5H668V142.7H667V140.3H666V142.7H665V141.8H664V142.4H663V142H662V140.1H661V139.7H660V143H659V142H658V142.7H657V139.5H656V141H655V143H654V145.5H653V146.5H652V144.4H651V148.3H650V149.5H649V148.7H648V149.9H647V150.3H646V154H645V153.9H644V153.7H643V151.2H642V152.6H641V149.5H640V149.8H639V147.5H638V144.5H637V144.5H636V145.1H635V147.5H634V149.5H633V152.8H632V155H631V156.5H630V164.8H629V168.5H628V164.1H627V162.4H626V157.5H625V154.2H624V152.1H623V151.1H622V153.2H621V157.4H620V159H619V162.1H618V163.1H617V167.1H616V166H615V161H614V159.4H613V155.9H612V154H611V154.8H610V151H609V148.8H608V144.4H607V147.3H606V145.6H605V146.2H604V148.4H603V154.6H602V154.1H601V158.6H600V156.5H599V155.5H598V157.8H597V160.6H596V160.7H595V163.7H594V161.5H593V157.6H592V160.3H591V161.3H590V159.9H589V162.8H588V164.4H587V165.2H586V158.7H585V157.4H584V156.3H583V156.6H582V154.5H581V152H580V153.8H579V158.1H578V163.3H577V162.3H576V169.9H575V169.9H574V168.7H573V166.6H572V168.1H571V169.1H570V173.7H569V175.1H568V174.4H567V171.6H566V169.6H565V181.4H564V173.7H563.2Z"/>
</g>
<rect x="125.5" y="60.5" width="775" height="385" fill="none" stroke="#000" stroke-width="1.11" stroke-linejoin="miter"/>
<g font-size="13.889" text-anchor="middle">
<text x="146.90" y="466.33" letter-spacing="-0.3">64000</text><text x="260.83" y="466.33" letter-spacing="-0.3">66000</text><text x="374.76" y="466.33" letter-spacing="-0.3">68000</text><text x="488.39" y="466.33" letter-spacing="-0.3">70000</text><text x="602.72" y="466.33" letter-spacing="-0.3">72000</text><text x="717.54" y="466.33" letter-spacing="-0.3">74000</text><text x="831.27" y="466.33" letter-spacing="-0.3">76000</text>
<text x="512.30" y="485.87">Time (s)</text>
<text transform="translate(87.76 253.30) rotate(-90)">CNo dB Hz</text>
</g>
<g font-size="13.889" text-anchor="end">
<text x="114.48" y="392.16" letter-spacing="-0.3">10</text><text x="115.18" y="319.52" letter-spacing="-0.3">20</text><text x="114.48" y="246.88" letter-spacing="-0.3">30</text><text x="114.48" y="174.24" letter-spacing="-0.3">40</text><text x="114.48" y="101.60" letter-spacing="-0.3">50</text>
</g>
<text transform="translate(512.20 51.57) scale(1 1.080)" font-size="16.667" text-anchor="middle" letter-spacing="-0.05">Z3R ant_0 GLONASS L2(CA)</text>
<rect x="922.7" y="74.4" width="66.5" height="192.8" rx="2.8" ry="2.8" fill="#fff" fill-opacity="0.8" stroke="#ccc" stroke-opacity="0.8" stroke-width="1.39"/>
<g stroke-width="0.69" fill="none">
<path stroke="#1f77b4" d="M927.0 86.50H956.0"/><path stroke="#ff7f0e" d="M927.0 107.50H956.0"/><path stroke="#2ca02c" d="M927.0 127.50H956.0"/><path stroke="#d62728" d="M927.0 148.50H956.0"/><path stroke="#9467bd" d="M927.0 169.50H956.0"/><path stroke="#8c564b" d="M927.0 190.50H956.0"/><path stroke="#e377c2" d="M927.0 211.50H956.0"/><path stroke="#7f7f7f" d="M927.0 232.50H956.0"/><path stroke="#bcbd22" d="M927.0 253.50H956.0"/>
</g>
<g font-size="13.889">
<text x="965.90" y="90.00">7</text><text x="965.90" y="111.00">8</text><text x="965.90" y="132.00">9</text><text x="965.90" y="153.00">11</text><text x="965.90" y="174.00">16</text><text x="965.90" y="195.00">18</text><text x="965.90" y="216.00">19</text><text x="965.90" y="237.00">20</text><text x="965.90" y="258.00">21</text>
</g>
</svg>
</body></html>
